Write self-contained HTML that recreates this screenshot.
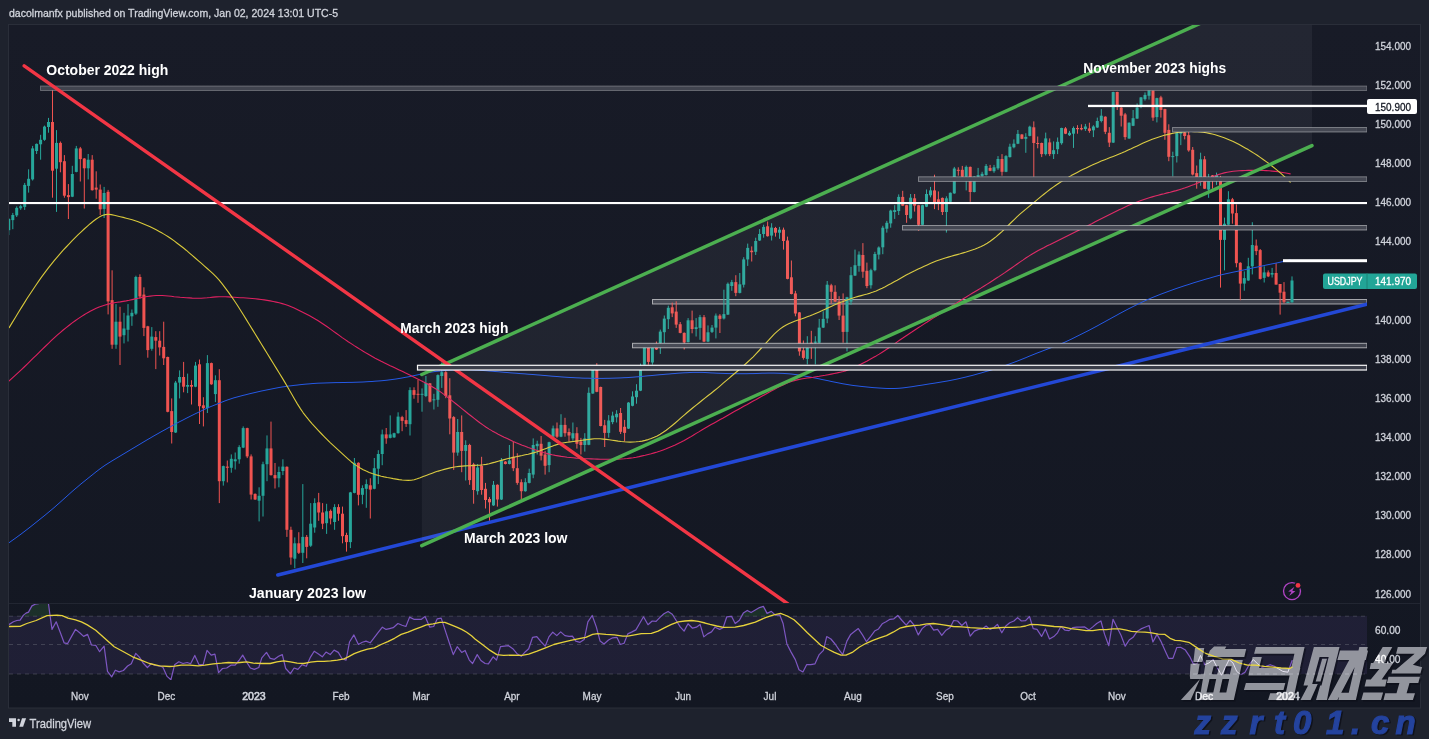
<!DOCTYPE html>
<html><head><meta charset="utf-8"><title>USDJPY</title>
<style>
html,body{margin:0;padding:0;background:#1e222d;overflow:hidden}
svg{display:block}
text{font-family:"Liberation Sans",sans-serif}
svg{will-change:transform}
</style></head><body>
<svg width="1429" height="739" viewBox="0 0 1429 739">
<rect x="0" y="0" width="1429" height="739" fill="#1e222d"/>
<text x="9" y="17" font-size="11" fill="#d1d4dc" textLength="329" lengthAdjust="spacingAndGlyphs" stroke="#d1d4dc" stroke-width="0.3">dacolmanfx published on TradingView.com, Jan 02, 2024 13:01 UTC-5</text>
<defs><linearGradient id="pg" x1="0" y1="0" x2="0" y2="1"><stop offset="0" stop-color="#181b27"/><stop offset="1" stop-color="#131722"/></linearGradient></defs>
<rect x="8.5" y="24.5" width="1412" height="683.5" fill="url(#pg)" stroke="#2a2e39" stroke-width="1"/>
<line x1="9" y1="603.5" x2="1420" y2="603.5" stroke="#222632" stroke-width="1"/>
<defs><clipPath id="cm"><rect x="9" y="25" width="1358" height="578"/></clipPath><clipPath id="cr"><rect x="9" y="604" width="1358" height="76"/></clipPath></defs>
<g clip-path="url(#cm)">
<rect x="652.5" y="299.5" width="714.5" height="4.5" fill="#3f424d" stroke="#ffffff" stroke-opacity="0.58" stroke-width="1"/>
<rect x="8.3" y="218.0" width="1" height="17.1" fill="#26a69a"/><rect x="7.3" y="219.0" width="3" height="11.2" fill="#26a69a"/>
<rect x="12.3" y="212.9" width="1" height="16.3" fill="#26a69a"/><rect x="11.3" y="215.0" width="3" height="5.1" fill="#26a69a"/>
<rect x="16.2" y="206.4" width="1" height="10.6" fill="#26a69a"/><rect x="15.2" y="207.9" width="3" height="7.5" fill="#26a69a"/>
<rect x="20.2" y="204.8" width="1" height="5.1" fill="#26a69a"/><rect x="19.2" y="206.2" width="3" height="2.1" fill="#26a69a"/>
<rect x="24.2" y="182.9" width="1" height="27.0" fill="#26a69a"/><rect x="23.2" y="184.9" width="3" height="22.0" fill="#26a69a"/>
<rect x="28.1" y="169.3" width="1" height="23.3" fill="#26a69a"/><rect x="27.1" y="178.8" width="3" height="7.1" fill="#26a69a"/>
<rect x="32.1" y="145.9" width="1" height="34.6" fill="#26a69a"/><rect x="31.1" y="148.4" width="3" height="31.0" fill="#26a69a"/>
<rect x="36.1" y="143.5" width="1" height="10.5" fill="#26a69a"/><rect x="35.1" y="143.9" width="3" height="7.1" fill="#26a69a"/>
<rect x="40.1" y="134.8" width="1" height="24.9" fill="#26a69a"/><rect x="39.1" y="139.8" width="3" height="4.5" fill="#26a69a"/>
<rect x="44.0" y="125.6" width="1" height="15.2" fill="#26a69a"/><rect x="43.0" y="126.6" width="3" height="13.2" fill="#26a69a"/>
<rect x="48.0" y="117.9" width="1" height="14.8" fill="#26a69a"/><rect x="47.0" y="122.0" width="3" height="5.0" fill="#26a69a"/>
<rect x="52.0" y="90.1" width="1" height="107.6" fill="#ef5350"/><rect x="51.0" y="122.0" width="3" height="48.7" fill="#ef5350"/>
<rect x="56.0" y="130.1" width="1" height="81.8" fill="#26a69a"/><rect x="55.0" y="142.9" width="3" height="25.8" fill="#26a69a"/>
<rect x="59.9" y="141.5" width="1" height="30.8" fill="#ef5350"/><rect x="58.9" y="142.9" width="3" height="19.3" fill="#ef5350"/>
<rect x="63.9" y="155.1" width="1" height="42.6" fill="#ef5350"/><rect x="62.9" y="161.2" width="3" height="34.5" fill="#ef5350"/>
<rect x="67.9" y="184.1" width="1" height="34.9" fill="#ef5350"/><rect x="66.9" y="195.1" width="3" height="2.0" fill="#ef5350"/>
<rect x="71.8" y="165.8" width="1" height="31.3" fill="#26a69a"/><rect x="70.8" y="174.0" width="3" height="22.7" fill="#26a69a"/>
<rect x="75.8" y="145.9" width="1" height="26.4" fill="#26a69a"/><rect x="74.8" y="148.4" width="3" height="23.5" fill="#26a69a"/>
<rect x="79.8" y="146.9" width="1" height="34.6" fill="#ef5350"/><rect x="78.8" y="148.4" width="3" height="10.7" fill="#ef5350"/>
<rect x="83.8" y="158.1" width="1" height="50.4" fill="#ef5350"/><rect x="82.8" y="158.5" width="3" height="9.8" fill="#ef5350"/>
<rect x="87.7" y="154.0" width="1" height="25.4" fill="#26a69a"/><rect x="86.7" y="159.7" width="3" height="8.6" fill="#26a69a"/>
<rect x="91.7" y="155.1" width="1" height="35.5" fill="#ef5350"/><rect x="90.7" y="159.7" width="3" height="30.5" fill="#ef5350"/>
<rect x="95.7" y="171.3" width="1" height="27.4" fill="#ef5350"/><rect x="94.7" y="187.6" width="3" height="2.0" fill="#ef5350"/>
<rect x="99.7" y="184.5" width="1" height="30.5" fill="#ef5350"/><rect x="98.7" y="189.6" width="3" height="19.7" fill="#ef5350"/>
<rect x="103.6" y="186.9" width="1" height="31.1" fill="#26a69a"/><rect x="102.6" y="193.0" width="3" height="15.9" fill="#26a69a"/>
<rect x="107.6" y="189.9" width="1" height="124.5" fill="#ef5350"/><rect x="106.6" y="191.8" width="3" height="109.6" fill="#ef5350"/>
<rect x="111.6" y="270.3" width="1" height="78.5" fill="#ef5350"/><rect x="110.6" y="300.1" width="3" height="44.6" fill="#ef5350"/>
<rect x="115.5" y="304.1" width="1" height="44.7" fill="#26a69a"/><rect x="114.5" y="321.7" width="3" height="23.0" fill="#26a69a"/>
<rect x="119.5" y="306.8" width="1" height="58.2" fill="#ef5350"/><rect x="118.5" y="321.7" width="3" height="14.9" fill="#ef5350"/>
<rect x="123.5" y="312.8" width="1" height="30.6" fill="#26a69a"/><rect x="122.5" y="328.5" width="3" height="6.7" fill="#26a69a"/>
<rect x="127.5" y="304.1" width="1" height="37.4" fill="#26a69a"/><rect x="126.5" y="315.5" width="3" height="14.3" fill="#26a69a"/>
<rect x="131.4" y="309.5" width="1" height="16.3" fill="#26a69a"/><rect x="130.4" y="312.8" width="3" height="3.5" fill="#26a69a"/>
<rect x="135.4" y="275.7" width="1" height="39.2" fill="#26a69a"/><rect x="134.4" y="277.0" width="3" height="36.6" fill="#26a69a"/>
<rect x="139.4" y="274.3" width="1" height="24.4" fill="#ef5350"/><rect x="138.4" y="277.0" width="3" height="19.5" fill="#ef5350"/>
<rect x="143.4" y="287.3" width="1" height="48.8" fill="#ef5350"/><rect x="142.4" y="294.6" width="3" height="33.3" fill="#ef5350"/>
<rect x="147.3" y="325.8" width="1" height="31.9" fill="#ef5350"/><rect x="146.3" y="326.3" width="3" height="23.8" fill="#ef5350"/>
<rect x="151.3" y="327.1" width="1" height="23.6" fill="#26a69a"/><rect x="150.3" y="336.6" width="3" height="12.2" fill="#26a69a"/>
<rect x="155.3" y="331.2" width="1" height="37.9" fill="#ef5350"/><rect x="154.3" y="337.1" width="3" height="3.6" fill="#ef5350"/>
<rect x="159.2" y="331.2" width="1" height="24.3" fill="#ef5350"/><rect x="158.2" y="340.7" width="3" height="6.7" fill="#ef5350"/>
<rect x="163.2" y="321.7" width="1" height="43.3" fill="#ef5350"/><rect x="162.2" y="346.9" width="3" height="11.4" fill="#ef5350"/>
<rect x="167.2" y="356.6" width="1" height="55.7" fill="#ef5350"/><rect x="166.2" y="357.0" width="3" height="54.8" fill="#ef5350"/>
<rect x="171.2" y="398.4" width="1" height="45.1" fill="#ef5350"/><rect x="170.2" y="411.1" width="3" height="20.9" fill="#ef5350"/>
<rect x="175.1" y="380.9" width="1" height="52.1" fill="#26a69a"/><rect x="174.1" y="382.6" width="3" height="49.9" fill="#26a69a"/>
<rect x="179.1" y="370.4" width="1" height="28.0" fill="#26a69a"/><rect x="178.1" y="377.0" width="3" height="5.6" fill="#26a69a"/>
<rect x="183.1" y="361.9" width="1" height="30.4" fill="#ef5350"/><rect x="182.1" y="377.0" width="3" height="9.7" fill="#ef5350"/>
<rect x="187.1" y="373.6" width="1" height="19.5" fill="#26a69a"/><rect x="186.1" y="385.0" width="3" height="1.7" fill="#26a69a"/>
<rect x="191.0" y="380.2" width="1" height="24.3" fill="#ef5350"/><rect x="190.0" y="385.0" width="3" height="1.7" fill="#ef5350"/>
<rect x="195.0" y="361.9" width="1" height="25.3" fill="#26a69a"/><rect x="194.0" y="365.6" width="3" height="21.1" fill="#26a69a"/>
<rect x="199.0" y="359.5" width="1" height="64.5" fill="#ef5350"/><rect x="198.0" y="364.3" width="3" height="41.9" fill="#ef5350"/>
<rect x="202.9" y="397.2" width="1" height="29.2" fill="#ef5350"/><rect x="201.9" y="405.3" width="3" height="2.9" fill="#ef5350"/>
<rect x="206.9" y="355.1" width="1" height="57.9" fill="#26a69a"/><rect x="205.9" y="363.1" width="3" height="45.1" fill="#26a69a"/>
<rect x="210.9" y="362.6" width="1" height="22.2" fill="#ef5350"/><rect x="209.9" y="363.1" width="3" height="21.2" fill="#ef5350"/>
<rect x="214.9" y="375.3" width="1" height="26.8" fill="#26a69a"/><rect x="213.9" y="380.2" width="3" height="13.9" fill="#26a69a"/>
<rect x="218.8" y="369.2" width="1" height="133.9" fill="#ef5350"/><rect x="217.8" y="380.2" width="3" height="101.0" fill="#ef5350"/>
<rect x="222.8" y="465.6" width="1" height="20.0" fill="#26a69a"/><rect x="221.8" y="466.1" width="3" height="15.1" fill="#26a69a"/>
<rect x="226.8" y="460.5" width="1" height="21.9" fill="#ef5350"/><rect x="225.8" y="466.6" width="3" height="1.2" fill="#ef5350"/>
<rect x="230.8" y="454.4" width="1" height="18.3" fill="#26a69a"/><rect x="229.8" y="458.8" width="3" height="9.0" fill="#26a69a"/>
<rect x="234.7" y="452.5" width="1" height="17.0" fill="#26a69a"/><rect x="233.7" y="459.3" width="3" height="2.0" fill="#26a69a"/>
<rect x="238.7" y="445.2" width="1" height="18.5" fill="#26a69a"/><rect x="237.7" y="447.1" width="3" height="12.2" fill="#26a69a"/>
<rect x="242.7" y="426.4" width="1" height="21.7" fill="#26a69a"/><rect x="241.7" y="428.1" width="3" height="19.5" fill="#26a69a"/>
<rect x="246.7" y="427.7" width="1" height="30.4" fill="#ef5350"/><rect x="245.7" y="428.1" width="3" height="28.3" fill="#ef5350"/>
<rect x="250.6" y="454.4" width="1" height="45.1" fill="#ef5350"/><rect x="249.6" y="456.4" width="3" height="38.2" fill="#ef5350"/>
<rect x="254.6" y="493.4" width="1" height="6.6" fill="#ef5350"/><rect x="253.6" y="493.9" width="3" height="5.6" fill="#ef5350"/>
<rect x="258.6" y="487.3" width="1" height="34.1" fill="#26a69a"/><rect x="257.6" y="495.8" width="3" height="4.9" fill="#26a69a"/>
<rect x="262.5" y="461.7" width="1" height="54.8" fill="#26a69a"/><rect x="261.5" y="464.2" width="3" height="31.6" fill="#26a69a"/>
<rect x="266.5" y="435.4" width="1" height="45.8" fill="#26a69a"/><rect x="265.5" y="448.4" width="3" height="15.8" fill="#26a69a"/>
<rect x="270.5" y="421.6" width="1" height="54.0" fill="#ef5350"/><rect x="269.5" y="448.4" width="3" height="26.7" fill="#ef5350"/>
<rect x="274.5" y="463.0" width="1" height="25.5" fill="#ef5350"/><rect x="273.5" y="475.1" width="3" height="3.2" fill="#ef5350"/>
<rect x="278.4" y="466.6" width="1" height="20.7" fill="#26a69a"/><rect x="277.4" y="472.0" width="3" height="6.3" fill="#26a69a"/>
<rect x="282.4" y="459.3" width="1" height="15.8" fill="#26a69a"/><rect x="281.4" y="466.6" width="3" height="4.4" fill="#26a69a"/>
<rect x="286.4" y="466.3" width="1" height="70.6" fill="#ef5350"/><rect x="285.4" y="466.8" width="3" height="63.0" fill="#ef5350"/>
<rect x="290.4" y="526.7" width="1" height="38.0" fill="#ef5350"/><rect x="289.4" y="529.8" width="3" height="27.7" fill="#ef5350"/>
<rect x="294.3" y="537.4" width="1" height="30.8" fill="#26a69a"/><rect x="293.3" y="543.3" width="3" height="15.4" fill="#26a69a"/>
<rect x="298.3" y="532.2" width="1" height="21.8" fill="#ef5350"/><rect x="297.3" y="543.3" width="3" height="9.5" fill="#ef5350"/>
<rect x="302.3" y="484.1" width="1" height="78.9" fill="#26a69a"/><rect x="301.3" y="536.9" width="3" height="15.9" fill="#26a69a"/>
<rect x="306.2" y="535.0" width="1" height="23.3" fill="#ef5350"/><rect x="305.2" y="536.9" width="3" height="10.0" fill="#ef5350"/>
<rect x="310.2" y="503.1" width="1" height="43.8" fill="#26a69a"/><rect x="309.2" y="523.7" width="3" height="22.0" fill="#26a69a"/>
<rect x="314.2" y="498.3" width="1" height="34.4" fill="#26a69a"/><rect x="313.2" y="503.1" width="3" height="24.4" fill="#26a69a"/>
<rect x="318.2" y="492.9" width="1" height="27.9" fill="#ef5350"/><rect x="317.2" y="502.3" width="3" height="10.2" fill="#ef5350"/>
<rect x="322.1" y="503.1" width="1" height="26.0" fill="#ef5350"/><rect x="321.1" y="512.5" width="3" height="11.2" fill="#ef5350"/>
<rect x="326.1" y="503.8" width="1" height="30.1" fill="#26a69a"/><rect x="325.1" y="511.3" width="3" height="11.9" fill="#26a69a"/>
<rect x="330.1" y="509.5" width="1" height="14.9" fill="#ef5350"/><rect x="329.1" y="510.9" width="3" height="7.6" fill="#ef5350"/>
<rect x="334.1" y="504.2" width="1" height="25.6" fill="#26a69a"/><rect x="333.1" y="507.1" width="3" height="14.9" fill="#26a69a"/>
<rect x="338.0" y="504.2" width="1" height="16.6" fill="#ef5350"/><rect x="337.0" y="507.1" width="3" height="6.6" fill="#ef5350"/>
<rect x="342.0" y="506.6" width="1" height="36.7" fill="#ef5350"/><rect x="341.0" y="513.7" width="3" height="22.5" fill="#ef5350"/>
<rect x="346.0" y="532.7" width="1" height="18.9" fill="#ef5350"/><rect x="345.0" y="535.0" width="3" height="7.1" fill="#ef5350"/>
<rect x="349.9" y="491.9" width="1" height="56.2" fill="#26a69a"/><rect x="348.9" y="492.4" width="3" height="49.7" fill="#26a69a"/>
<rect x="353.9" y="458.0" width="1" height="35.3" fill="#26a69a"/><rect x="352.9" y="462.8" width="3" height="30.1" fill="#26a69a"/>
<rect x="357.9" y="462.3" width="1" height="43.1" fill="#ef5350"/><rect x="356.9" y="462.8" width="3" height="32.0" fill="#ef5350"/>
<rect x="361.9" y="485.3" width="1" height="18.9" fill="#26a69a"/><rect x="360.9" y="488.1" width="3" height="6.7" fill="#26a69a"/>
<rect x="365.8" y="479.4" width="1" height="28.4" fill="#26a69a"/><rect x="364.8" y="484.1" width="3" height="4.7" fill="#26a69a"/>
<rect x="369.8" y="478.2" width="1" height="40.3" fill="#ef5350"/><rect x="368.8" y="485.3" width="3" height="4.3" fill="#ef5350"/>
<rect x="373.8" y="458.0" width="1" height="31.3" fill="#26a69a"/><rect x="372.8" y="468.2" width="3" height="20.6" fill="#26a69a"/>
<rect x="377.8" y="450.2" width="1" height="33.9" fill="#26a69a"/><rect x="376.8" y="454.0" width="3" height="14.7" fill="#26a69a"/>
<rect x="381.7" y="429.6" width="1" height="35.6" fill="#26a69a"/><rect x="380.7" y="434.4" width="3" height="19.6" fill="#26a69a"/>
<rect x="385.7" y="428.0" width="1" height="15.8" fill="#ef5350"/><rect x="384.7" y="434.4" width="3" height="4.0" fill="#ef5350"/>
<rect x="389.7" y="415.4" width="1" height="23.0" fill="#26a69a"/><rect x="388.7" y="434.4" width="3" height="3.5" fill="#26a69a"/>
<rect x="393.6" y="432.7" width="1" height="5.2" fill="#26a69a"/><rect x="392.6" y="433.2" width="3" height="4.2" fill="#26a69a"/>
<rect x="397.6" y="412.3" width="1" height="21.3" fill="#26a69a"/><rect x="396.6" y="416.6" width="3" height="16.6" fill="#26a69a"/>
<rect x="401.6" y="415.8" width="1" height="15.4" fill="#ef5350"/><rect x="400.6" y="417.1" width="3" height="3.8" fill="#ef5350"/>
<rect x="405.6" y="410.1" width="1" height="16.8" fill="#ef5350"/><rect x="404.6" y="420.1" width="3" height="3.8" fill="#ef5350"/>
<rect x="409.5" y="387.3" width="1" height="48.2" fill="#26a69a"/><rect x="408.5" y="390.1" width="3" height="34.1" fill="#26a69a"/>
<rect x="413.5" y="387.3" width="1" height="11.4" fill="#ef5350"/><rect x="412.5" y="390.1" width="3" height="4.8" fill="#ef5350"/>
<rect x="417.5" y="379.8" width="1" height="23.0" fill="#ef5350"/><rect x="416.5" y="393.8" width="3" height="1.0" fill="#ef5350"/>
<rect x="421.5" y="388.4" width="1" height="23.3" fill="#26a69a"/><rect x="420.5" y="393.8" width="3" height="1.0" fill="#26a69a"/>
<rect x="425.4" y="376.0" width="1" height="21.1" fill="#26a69a"/><rect x="424.4" y="383.0" width="3" height="13.0" fill="#26a69a"/>
<rect x="429.4" y="383.1" width="1" height="19.4" fill="#ef5350"/><rect x="428.4" y="383.3" width="3" height="18.4" fill="#ef5350"/>
<rect x="433.4" y="393.8" width="1" height="15.7" fill="#26a69a"/><rect x="432.4" y="399.3" width="3" height="1.0" fill="#26a69a"/>
<rect x="437.4" y="374.4" width="1" height="32.4" fill="#26a69a"/><rect x="436.4" y="375.1" width="3" height="24.7" fill="#26a69a"/>
<rect x="441.3" y="362.4" width="1" height="25.5" fill="#26a69a"/><rect x="440.3" y="372.2" width="3" height="3.8" fill="#26a69a"/>
<rect x="445.3" y="371.1" width="1" height="27.1" fill="#ef5350"/><rect x="444.3" y="372.2" width="3" height="23.8" fill="#ef5350"/>
<rect x="449.3" y="378.2" width="1" height="56.1" fill="#ef5350"/><rect x="448.3" y="395.3" width="3" height="23.2" fill="#ef5350"/>
<rect x="453.2" y="416.1" width="1" height="53.8" fill="#ef5350"/><rect x="452.2" y="417.1" width="3" height="35.5" fill="#ef5350"/>
<rect x="457.2" y="419.0" width="1" height="36.7" fill="#26a69a"/><rect x="456.2" y="432.0" width="3" height="20.6" fill="#26a69a"/>
<rect x="461.2" y="415.4" width="1" height="56.8" fill="#ef5350"/><rect x="460.2" y="432.0" width="3" height="18.9" fill="#ef5350"/>
<rect x="465.2" y="440.3" width="1" height="40.2" fill="#26a69a"/><rect x="464.2" y="445.0" width="3" height="5.9" fill="#26a69a"/>
<rect x="469.1" y="443.8" width="1" height="41.0" fill="#ef5350"/><rect x="468.1" y="445.0" width="3" height="35.1" fill="#ef5350"/>
<rect x="473.1" y="462.8" width="1" height="40.9" fill="#ef5350"/><rect x="472.1" y="464.4" width="3" height="25.6" fill="#ef5350"/>
<rect x="477.1" y="464.0" width="1" height="30.7" fill="#26a69a"/><rect x="476.1" y="467.5" width="3" height="23.7" fill="#26a69a"/>
<rect x="481.1" y="456.8" width="1" height="37.9" fill="#ef5350"/><rect x="480.1" y="465.8" width="3" height="24.2" fill="#ef5350"/>
<rect x="485.0" y="482.9" width="1" height="25.6" fill="#ef5350"/><rect x="484.0" y="488.8" width="3" height="11.2" fill="#ef5350"/>
<rect x="489.0" y="497.1" width="1" height="23.7" fill="#ef5350"/><rect x="488.0" y="499.0" width="3" height="3.3" fill="#ef5350"/>
<rect x="493.0" y="481.0" width="1" height="24.9" fill="#26a69a"/><rect x="492.0" y="484.8" width="3" height="20.6" fill="#26a69a"/>
<rect x="496.9" y="484.3" width="1" height="22.3" fill="#ef5350"/><rect x="495.9" y="484.8" width="3" height="14.7" fill="#ef5350"/>
<rect x="500.9" y="458.0" width="1" height="42.0" fill="#26a69a"/><rect x="499.9" y="460.4" width="3" height="39.1" fill="#26a69a"/>
<rect x="504.9" y="461.1" width="1" height="3.3" fill="#ef5350"/><rect x="503.9" y="461.6" width="3" height="2.4" fill="#ef5350"/>
<rect x="508.9" y="445.0" width="1" height="19.4" fill="#26a69a"/><rect x="507.9" y="460.4" width="3" height="3.6" fill="#26a69a"/>
<rect x="512.8" y="441.5" width="1" height="29.6" fill="#ef5350"/><rect x="511.8" y="456.8" width="3" height="11.4" fill="#ef5350"/>
<rect x="516.8" y="453.3" width="1" height="31.5" fill="#ef5350"/><rect x="515.8" y="468.2" width="3" height="14.7" fill="#ef5350"/>
<rect x="520.8" y="479.3" width="1" height="20.2" fill="#ef5350"/><rect x="519.8" y="482.2" width="3" height="9.0" fill="#ef5350"/>
<rect x="524.8" y="478.2" width="1" height="13.5" fill="#26a69a"/><rect x="523.8" y="482.2" width="3" height="9.0" fill="#26a69a"/>
<rect x="528.7" y="468.7" width="1" height="14.7" fill="#26a69a"/><rect x="527.7" y="473.0" width="3" height="9.9" fill="#26a69a"/>
<rect x="532.7" y="438.4" width="1" height="39.8" fill="#26a69a"/><rect x="531.7" y="445.0" width="3" height="29.6" fill="#26a69a"/>
<rect x="536.7" y="440.7" width="1" height="13.8" fill="#26a69a"/><rect x="535.7" y="443.8" width="3" height="2.4" fill="#26a69a"/>
<rect x="540.6" y="436.0" width="1" height="24.4" fill="#ef5350"/><rect x="539.6" y="443.8" width="3" height="11.9" fill="#ef5350"/>
<rect x="544.6" y="450.9" width="1" height="23.7" fill="#ef5350"/><rect x="543.6" y="454.5" width="3" height="11.3" fill="#ef5350"/>
<rect x="548.6" y="441.7" width="1" height="30.5" fill="#26a69a"/><rect x="547.6" y="442.2" width="3" height="22.9" fill="#26a69a"/>
<rect x="552.6" y="425.6" width="1" height="11.6" fill="#26a69a"/><rect x="551.6" y="428.4" width="3" height="8.3" fill="#26a69a"/>
<rect x="556.5" y="422.5" width="1" height="15.4" fill="#ef5350"/><rect x="555.5" y="428.4" width="3" height="8.3" fill="#ef5350"/>
<rect x="560.5" y="414.2" width="1" height="23.0" fill="#26a69a"/><rect x="559.5" y="424.9" width="3" height="11.8" fill="#26a69a"/>
<rect x="564.5" y="417.8" width="1" height="18.9" fill="#ef5350"/><rect x="563.5" y="424.9" width="3" height="8.3" fill="#ef5350"/>
<rect x="568.5" y="428.4" width="1" height="13.1" fill="#ef5350"/><rect x="567.5" y="432.0" width="3" height="3.5" fill="#ef5350"/>
<rect x="572.4" y="422.5" width="1" height="18.2" fill="#26a69a"/><rect x="571.4" y="433.2" width="3" height="5.2" fill="#26a69a"/>
<rect x="576.4" y="427.2" width="1" height="21.4" fill="#ef5350"/><rect x="575.4" y="433.2" width="3" height="10.6" fill="#ef5350"/>
<rect x="580.4" y="437.9" width="1" height="16.6" fill="#ef5350"/><rect x="579.4" y="441.5" width="3" height="3.5" fill="#ef5350"/>
<rect x="584.3" y="433.2" width="1" height="18.4" fill="#26a69a"/><rect x="583.3" y="438.4" width="3" height="6.6" fill="#26a69a"/>
<rect x="588.3" y="387.4" width="1" height="57.8" fill="#26a69a"/><rect x="587.3" y="392.8" width="3" height="52.0" fill="#26a69a"/>
<rect x="592.3" y="369.2" width="1" height="24.7" fill="#26a69a"/><rect x="591.3" y="369.7" width="3" height="23.8" fill="#26a69a"/>
<rect x="596.3" y="363.2" width="1" height="29.0" fill="#ef5350"/><rect x="595.3" y="369.7" width="3" height="22.1" fill="#ef5350"/>
<rect x="600.2" y="386.6" width="1" height="39.8" fill="#ef5350"/><rect x="599.2" y="387.0" width="3" height="39.0" fill="#ef5350"/>
<rect x="604.2" y="419.9" width="1" height="27.1" fill="#ef5350"/><rect x="603.2" y="425.3" width="3" height="7.6" fill="#ef5350"/>
<rect x="608.2" y="415.1" width="1" height="22.6" fill="#26a69a"/><rect x="607.2" y="420.5" width="3" height="12.4" fill="#26a69a"/>
<rect x="612.1" y="411.7" width="1" height="12.5" fill="#26a69a"/><rect x="611.1" y="415.6" width="3" height="6.5" fill="#26a69a"/>
<rect x="616.1" y="410.2" width="1" height="12.3" fill="#26a69a"/><rect x="615.1" y="413.8" width="3" height="3.5" fill="#26a69a"/>
<rect x="620.1" y="408.0" width="1" height="26.0" fill="#ef5350"/><rect x="619.1" y="413.0" width="3" height="18.8" fill="#ef5350"/>
<rect x="624.1" y="419.9" width="1" height="21.6" fill="#ef5350"/><rect x="623.1" y="426.8" width="3" height="6.1" fill="#ef5350"/>
<rect x="628.0" y="402.1" width="1" height="26.9" fill="#26a69a"/><rect x="627.0" y="402.6" width="3" height="26.0" fill="#26a69a"/>
<rect x="632.0" y="391.3" width="1" height="15.0" fill="#26a69a"/><rect x="631.0" y="396.5" width="3" height="9.3" fill="#26a69a"/>
<rect x="636.0" y="384.2" width="1" height="19.5" fill="#26a69a"/><rect x="635.0" y="390.7" width="3" height="6.5" fill="#26a69a"/>
<rect x="640.0" y="363.6" width="1" height="27.5" fill="#26a69a"/><rect x="639.0" y="370.1" width="3" height="20.6" fill="#26a69a"/>
<rect x="643.9" y="346.9" width="1" height="18.2" fill="#26a69a"/><rect x="642.9" y="347.4" width="3" height="17.3" fill="#26a69a"/>
<rect x="647.9" y="346.9" width="1" height="17.8" fill="#ef5350"/><rect x="646.9" y="347.4" width="3" height="14.5" fill="#ef5350"/>
<rect x="651.9" y="346.9" width="1" height="17.8" fill="#26a69a"/><rect x="650.9" y="347.4" width="3" height="15.1" fill="#26a69a"/>
<rect x="655.9" y="341.5" width="1" height="8.5" fill="#ef5350"/><rect x="654.9" y="347.4" width="3" height="2.1" fill="#ef5350"/>
<rect x="659.8" y="329.6" width="1" height="24.3" fill="#26a69a"/><rect x="658.8" y="331.6" width="3" height="11.4" fill="#26a69a"/>
<rect x="663.8" y="315.5" width="1" height="27.5" fill="#26a69a"/><rect x="662.8" y="318.6" width="3" height="13.6" fill="#26a69a"/>
<rect x="667.8" y="305.6" width="1" height="23.4" fill="#26a69a"/><rect x="666.8" y="307.8" width="3" height="11.4" fill="#26a69a"/>
<rect x="671.7" y="302.6" width="1" height="14.5" fill="#ef5350"/><rect x="670.7" y="307.3" width="3" height="6.1" fill="#ef5350"/>
<rect x="675.7" y="301.3" width="1" height="26.6" fill="#ef5350"/><rect x="674.7" y="311.6" width="3" height="13.0" fill="#ef5350"/>
<rect x="679.7" y="322.0" width="1" height="11.3" fill="#ef5350"/><rect x="678.7" y="324.2" width="3" height="8.7" fill="#ef5350"/>
<rect x="683.7" y="332.4" width="1" height="17.1" fill="#ef5350"/><rect x="682.7" y="332.9" width="3" height="9.5" fill="#ef5350"/>
<rect x="687.6" y="318.1" width="1" height="24.3" fill="#26a69a"/><rect x="686.6" y="320.3" width="3" height="21.7" fill="#26a69a"/>
<rect x="691.6" y="310.6" width="1" height="22.7" fill="#ef5350"/><rect x="690.6" y="320.3" width="3" height="8.7" fill="#ef5350"/>
<rect x="695.6" y="318.1" width="1" height="18.4" fill="#26a69a"/><rect x="694.6" y="327.2" width="3" height="1.8" fill="#26a69a"/>
<rect x="699.5" y="314.9" width="1" height="24.9" fill="#26a69a"/><rect x="698.5" y="317.1" width="3" height="10.8" fill="#26a69a"/>
<rect x="703.5" y="315.0" width="1" height="27.1" fill="#ef5350"/><rect x="702.5" y="317.2" width="3" height="24.4" fill="#ef5350"/>
<rect x="707.5" y="325.4" width="1" height="16.7" fill="#26a69a"/><rect x="706.5" y="332.3" width="3" height="9.3" fill="#26a69a"/>
<rect x="711.5" y="325.0" width="1" height="8.0" fill="#26a69a"/><rect x="710.5" y="327.6" width="3" height="4.3" fill="#26a69a"/>
<rect x="715.4" y="313.5" width="1" height="24.9" fill="#26a69a"/><rect x="714.4" y="315.6" width="3" height="12.0" fill="#26a69a"/>
<rect x="719.4" y="314.1" width="1" height="18.9" fill="#ef5350"/><rect x="718.4" y="315.6" width="3" height="3.3" fill="#ef5350"/>
<rect x="723.4" y="289.7" width="1" height="29.8" fill="#26a69a"/><rect x="722.4" y="314.1" width="3" height="4.4" fill="#26a69a"/>
<rect x="727.4" y="282.5" width="1" height="32.5" fill="#26a69a"/><rect x="726.4" y="283.8" width="3" height="30.8" fill="#26a69a"/>
<rect x="731.3" y="279.9" width="1" height="10.9" fill="#26a69a"/><rect x="730.3" y="282.1" width="3" height="3.9" fill="#26a69a"/>
<rect x="735.3" y="275.2" width="1" height="21.0" fill="#ef5350"/><rect x="734.3" y="282.1" width="3" height="10.8" fill="#ef5350"/>
<rect x="739.3" y="273.0" width="1" height="20.4" fill="#26a69a"/><rect x="738.3" y="284.3" width="3" height="8.6" fill="#26a69a"/>
<rect x="743.2" y="257.2" width="1" height="30.3" fill="#26a69a"/><rect x="742.2" y="259.4" width="3" height="25.3" fill="#26a69a"/>
<rect x="747.2" y="243.6" width="1" height="22.3" fill="#26a69a"/><rect x="746.2" y="247.9" width="3" height="11.5" fill="#26a69a"/>
<rect x="751.2" y="246.4" width="1" height="15.1" fill="#ef5350"/><rect x="750.2" y="250.7" width="3" height="1.5" fill="#ef5350"/>
<rect x="755.2" y="237.7" width="1" height="17.3" fill="#26a69a"/><rect x="754.2" y="241.0" width="3" height="10.8" fill="#26a69a"/>
<rect x="759.1" y="229.1" width="1" height="11.9" fill="#26a69a"/><rect x="758.1" y="234.0" width="3" height="6.5" fill="#26a69a"/>
<rect x="763.1" y="224.7" width="1" height="13.0" fill="#26a69a"/><rect x="762.1" y="226.9" width="3" height="7.1" fill="#26a69a"/>
<rect x="767.1" y="221.5" width="1" height="15.1" fill="#ef5350"/><rect x="766.1" y="226.3" width="3" height="9.9" fill="#ef5350"/>
<rect x="771.1" y="223.2" width="1" height="17.3" fill="#26a69a"/><rect x="770.1" y="227.6" width="3" height="8.0" fill="#26a69a"/>
<rect x="775.0" y="226.9" width="1" height="9.7" fill="#ef5350"/><rect x="774.0" y="228.0" width="3" height="4.7" fill="#ef5350"/>
<rect x="779.0" y="226.9" width="1" height="11.9" fill="#26a69a"/><rect x="778.0" y="229.7" width="3" height="3.0" fill="#26a69a"/>
<rect x="783.0" y="227.6" width="1" height="22.0" fill="#ef5350"/><rect x="782.0" y="229.7" width="3" height="11.3" fill="#ef5350"/>
<rect x="787.0" y="236.6" width="1" height="42.7" fill="#ef5350"/><rect x="786.0" y="240.5" width="3" height="38.4" fill="#ef5350"/>
<rect x="790.9" y="260.5" width="1" height="33.9" fill="#ef5350"/><rect x="789.9" y="277.3" width="3" height="16.7" fill="#ef5350"/>
<rect x="794.9" y="290.8" width="1" height="25.5" fill="#ef5350"/><rect x="793.9" y="293.4" width="3" height="20.1" fill="#ef5350"/>
<rect x="798.9" y="312.0" width="1" height="43.7" fill="#ef5350"/><rect x="797.9" y="312.4" width="3" height="39.0" fill="#ef5350"/>
<rect x="802.9" y="340.5" width="1" height="19.1" fill="#ef5350"/><rect x="801.9" y="350.3" width="3" height="7.6" fill="#ef5350"/>
<rect x="806.8" y="336.2" width="1" height="28.2" fill="#26a69a"/><rect x="805.8" y="347.5" width="3" height="11.4" fill="#26a69a"/>
<rect x="810.8" y="330.8" width="1" height="28.1" fill="#ef5350"/><rect x="809.8" y="342.7" width="3" height="2.2" fill="#ef5350"/>
<rect x="814.8" y="336.2" width="1" height="28.2" fill="#26a69a"/><rect x="813.8" y="341.6" width="3" height="1.1" fill="#26a69a"/>
<rect x="818.7" y="318.9" width="1" height="24.2" fill="#26a69a"/><rect x="817.7" y="327.6" width="3" height="15.1" fill="#26a69a"/>
<rect x="822.7" y="311.3" width="1" height="16.7" fill="#26a69a"/><rect x="821.7" y="318.9" width="3" height="8.7" fill="#26a69a"/>
<rect x="826.7" y="281.0" width="1" height="42.2" fill="#26a69a"/><rect x="825.7" y="284.7" width="3" height="33.8" fill="#26a69a"/>
<rect x="830.7" y="283.8" width="1" height="19.9" fill="#ef5350"/><rect x="829.7" y="285.3" width="3" height="6.5" fill="#ef5350"/>
<rect x="834.6" y="285.3" width="1" height="16.7" fill="#ef5350"/><rect x="833.6" y="291.8" width="3" height="9.8" fill="#ef5350"/>
<rect x="838.6" y="296.2" width="1" height="23.8" fill="#ef5350"/><rect x="837.6" y="301.6" width="3" height="14.0" fill="#ef5350"/>
<rect x="842.6" y="293.4" width="1" height="49.3" fill="#ef5350"/><rect x="841.6" y="315.6" width="3" height="16.3" fill="#ef5350"/>
<rect x="846.5" y="296.8" width="1" height="54.6" fill="#26a69a"/><rect x="845.5" y="297.3" width="3" height="34.6" fill="#26a69a"/>
<rect x="850.5" y="266.9" width="1" height="37.9" fill="#26a69a"/><rect x="849.5" y="275.2" width="3" height="26.4" fill="#26a69a"/>
<rect x="854.5" y="249.6" width="1" height="26.4" fill="#26a69a"/><rect x="853.5" y="265.2" width="3" height="10.4" fill="#26a69a"/>
<rect x="858.5" y="251.4" width="1" height="20.3" fill="#26a69a"/><rect x="857.5" y="254.6" width="3" height="11.3" fill="#26a69a"/>
<rect x="862.4" y="243.1" width="1" height="34.7" fill="#ef5350"/><rect x="861.4" y="255.0" width="3" height="16.7" fill="#ef5350"/>
<rect x="866.4" y="262.6" width="1" height="25.6" fill="#ef5350"/><rect x="865.4" y="270.8" width="3" height="15.2" fill="#ef5350"/>
<rect x="870.4" y="268.7" width="1" height="19.9" fill="#26a69a"/><rect x="869.4" y="270.2" width="3" height="15.1" fill="#26a69a"/>
<rect x="874.4" y="251.8" width="1" height="19.5" fill="#26a69a"/><rect x="873.4" y="254.0" width="3" height="16.2" fill="#26a69a"/>
<rect x="878.3" y="246.4" width="1" height="13.0" fill="#26a69a"/><rect x="877.3" y="247.5" width="3" height="7.1" fill="#26a69a"/>
<rect x="882.3" y="225.8" width="1" height="28.4" fill="#26a69a"/><rect x="881.3" y="227.7" width="3" height="19.6" fill="#26a69a"/>
<rect x="886.3" y="220.8" width="1" height="11.8" fill="#26a69a"/><rect x="885.3" y="222.8" width="3" height="5.9" fill="#26a69a"/>
<rect x="890.2" y="209.7" width="1" height="18.0" fill="#26a69a"/><rect x="889.2" y="210.6" width="3" height="12.8" fill="#26a69a"/>
<rect x="894.2" y="205.2" width="1" height="13.7" fill="#26a69a"/><rect x="893.2" y="210.1" width="3" height="1.9" fill="#26a69a"/>
<rect x="898.2" y="194.4" width="1" height="20.6" fill="#26a69a"/><rect x="897.2" y="196.9" width="3" height="14.1" fill="#26a69a"/>
<rect x="902.2" y="190.8" width="1" height="15.3" fill="#ef5350"/><rect x="901.2" y="196.9" width="3" height="8.8" fill="#ef5350"/>
<rect x="906.1" y="204.8" width="1" height="18.0" fill="#ef5350"/><rect x="905.1" y="205.2" width="3" height="9.8" fill="#ef5350"/>
<rect x="910.1" y="194.0" width="1" height="25.3" fill="#26a69a"/><rect x="909.1" y="197.7" width="3" height="20.6" fill="#26a69a"/>
<rect x="914.1" y="194.0" width="1" height="17.6" fill="#ef5350"/><rect x="913.1" y="198.3" width="3" height="7.4" fill="#ef5350"/>
<rect x="918.1" y="204.8" width="1" height="25.9" fill="#ef5350"/><rect x="917.1" y="205.2" width="3" height="19.6" fill="#ef5350"/>
<rect x="922.0" y="204.8" width="1" height="20.4" fill="#26a69a"/><rect x="921.0" y="205.2" width="3" height="19.6" fill="#26a69a"/>
<rect x="926.0" y="189.5" width="1" height="17.6" fill="#26a69a"/><rect x="925.0" y="194.0" width="3" height="12.7" fill="#26a69a"/>
<rect x="930.0" y="186.9" width="1" height="10.4" fill="#26a69a"/><rect x="929.0" y="190.4" width="3" height="4.9" fill="#26a69a"/>
<rect x="934.0" y="174.7" width="1" height="34.4" fill="#ef5350"/><rect x="933.0" y="190.4" width="3" height="11.8" fill="#ef5350"/>
<rect x="937.9" y="191.4" width="1" height="18.7" fill="#ef5350"/><rect x="936.9" y="199.3" width="3" height="2.9" fill="#ef5350"/>
<rect x="941.9" y="197.5" width="1" height="17.5" fill="#ef5350"/><rect x="940.9" y="197.9" width="3" height="14.1" fill="#ef5350"/>
<rect x="945.9" y="196.3" width="1" height="36.3" fill="#26a69a"/><rect x="944.9" y="198.3" width="3" height="13.7" fill="#26a69a"/>
<rect x="949.8" y="192.4" width="1" height="9.8" fill="#26a69a"/><rect x="948.8" y="192.8" width="3" height="9.0" fill="#26a69a"/>
<rect x="953.8" y="166.9" width="1" height="26.9" fill="#26a69a"/><rect x="952.8" y="168.5" width="3" height="24.9" fill="#26a69a"/>
<rect x="957.8" y="167.3" width="1" height="8.4" fill="#ef5350"/><rect x="956.8" y="169.8" width="3" height="1.0" fill="#ef5350"/>
<rect x="961.8" y="165.9" width="1" height="11.2" fill="#ef5350"/><rect x="960.8" y="169.8" width="3" height="6.9" fill="#ef5350"/>
<rect x="965.7" y="165.5" width="1" height="24.9" fill="#26a69a"/><rect x="964.7" y="166.9" width="3" height="9.8" fill="#26a69a"/>
<rect x="969.7" y="166.5" width="1" height="35.3" fill="#ef5350"/><rect x="968.7" y="166.9" width="3" height="25.1" fill="#ef5350"/>
<rect x="973.7" y="176.3" width="1" height="16.1" fill="#26a69a"/><rect x="972.7" y="176.7" width="3" height="15.3" fill="#26a69a"/>
<rect x="977.6" y="167.9" width="1" height="9.2" fill="#26a69a"/><rect x="976.6" y="175.1" width="3" height="1.6" fill="#26a69a"/>
<rect x="981.6" y="171.8" width="1" height="4.7" fill="#26a69a"/><rect x="980.6" y="173.8" width="3" height="2.3" fill="#26a69a"/>
<rect x="985.6" y="164.0" width="1" height="11.5" fill="#26a69a"/><rect x="984.6" y="165.9" width="3" height="9.2" fill="#26a69a"/>
<rect x="989.6" y="164.9" width="1" height="6.3" fill="#ef5350"/><rect x="988.6" y="167.9" width="3" height="2.9" fill="#ef5350"/>
<rect x="993.5" y="164.9" width="1" height="7.9" fill="#26a69a"/><rect x="992.5" y="167.3" width="3" height="3.9" fill="#26a69a"/>
<rect x="997.5" y="156.1" width="1" height="13.7" fill="#26a69a"/><rect x="996.5" y="159.0" width="3" height="9.3" fill="#26a69a"/>
<rect x="1001.5" y="154.1" width="1" height="21.6" fill="#ef5350"/><rect x="1000.5" y="159.0" width="3" height="12.8" fill="#ef5350"/>
<rect x="1005.5" y="155.1" width="1" height="17.1" fill="#26a69a"/><rect x="1004.5" y="156.1" width="3" height="15.7" fill="#26a69a"/>
<rect x="1009.4" y="143.7" width="1" height="13.8" fill="#26a69a"/><rect x="1008.4" y="146.7" width="3" height="10.4" fill="#26a69a"/>
<rect x="1013.4" y="139.4" width="1" height="8.9" fill="#26a69a"/><rect x="1012.4" y="143.7" width="3" height="3.6" fill="#26a69a"/>
<rect x="1017.4" y="130.0" width="1" height="14.1" fill="#26a69a"/><rect x="1016.4" y="133.9" width="3" height="9.8" fill="#26a69a"/>
<rect x="1021.4" y="134.1" width="1" height="5.1" fill="#ef5350"/><rect x="1020.4" y="134.5" width="3" height="4.3" fill="#ef5350"/>
<rect x="1025.3" y="133.2" width="1" height="19.6" fill="#26a69a"/><rect x="1024.3" y="136.9" width="3" height="1.9" fill="#26a69a"/>
<rect x="1029.3" y="125.7" width="1" height="10.6" fill="#26a69a"/><rect x="1028.3" y="126.7" width="3" height="9.2" fill="#26a69a"/>
<rect x="1033.3" y="121.4" width="1" height="55.3" fill="#ef5350"/><rect x="1032.3" y="127.3" width="3" height="15.7" fill="#ef5350"/>
<rect x="1037.2" y="136.5" width="1" height="11.8" fill="#ef5350"/><rect x="1036.2" y="143.0" width="3" height="1.0" fill="#ef5350"/>
<rect x="1041.2" y="142.6" width="1" height="14.5" fill="#ef5350"/><rect x="1040.2" y="143.0" width="3" height="11.1" fill="#ef5350"/>
<rect x="1045.2" y="132.6" width="1" height="22.9" fill="#26a69a"/><rect x="1044.2" y="138.4" width="3" height="15.7" fill="#26a69a"/>
<rect x="1049.2" y="138.4" width="1" height="17.7" fill="#ef5350"/><rect x="1048.2" y="142.4" width="3" height="11.7" fill="#ef5350"/>
<rect x="1053.1" y="141.4" width="1" height="17.6" fill="#26a69a"/><rect x="1052.1" y="150.2" width="3" height="3.9" fill="#26a69a"/>
<rect x="1057.1" y="137.5" width="1" height="16.6" fill="#26a69a"/><rect x="1056.1" y="141.8" width="3" height="7.4" fill="#26a69a"/>
<rect x="1061.1" y="127.7" width="1" height="17.0" fill="#26a69a"/><rect x="1060.1" y="128.0" width="3" height="15.2" fill="#26a69a"/>
<rect x="1065.0" y="127.1" width="1" height="7.0" fill="#ef5350"/><rect x="1064.0" y="128.4" width="3" height="5.3" fill="#ef5350"/>
<rect x="1069.0" y="130.9" width="1" height="5.1" fill="#26a69a"/><rect x="1068.0" y="132.8" width="3" height="2.4" fill="#26a69a"/>
<rect x="1073.0" y="126.5" width="1" height="21.4" fill="#26a69a"/><rect x="1072.0" y="128.0" width="3" height="5.7" fill="#26a69a"/>
<rect x="1077.0" y="125.2" width="1" height="8.5" fill="#ef5350"/><rect x="1076.0" y="128.0" width="3" height="1.2" fill="#ef5350"/>
<rect x="1080.9" y="124.3" width="1" height="6.0" fill="#ef5350"/><rect x="1079.9" y="128.0" width="3" height="1.4" fill="#ef5350"/>
<rect x="1084.9" y="123.9" width="1" height="7.0" fill="#26a69a"/><rect x="1083.9" y="126.5" width="3" height="2.5" fill="#26a69a"/>
<rect x="1088.9" y="122.7" width="1" height="10.1" fill="#ef5350"/><rect x="1087.9" y="128.4" width="3" height="2.5" fill="#ef5350"/>
<rect x="1092.9" y="125.2" width="1" height="11.9" fill="#26a69a"/><rect x="1091.9" y="126.5" width="3" height="3.8" fill="#26a69a"/>
<rect x="1096.8" y="117.6" width="1" height="10.3" fill="#26a69a"/><rect x="1095.8" y="121.0" width="3" height="6.5" fill="#26a69a"/>
<rect x="1100.8" y="109.1" width="1" height="13.3" fill="#26a69a"/><rect x="1099.8" y="115.7" width="3" height="5.3" fill="#26a69a"/>
<rect x="1104.8" y="116.3" width="1" height="17.8" fill="#ef5350"/><rect x="1103.8" y="116.7" width="3" height="15.1" fill="#ef5350"/>
<rect x="1108.8" y="127.1" width="1" height="19.9" fill="#ef5350"/><rect x="1107.8" y="132.8" width="3" height="9.8" fill="#ef5350"/>
<rect x="1112.7" y="91.7" width="1" height="51.3" fill="#26a69a"/><rect x="1111.7" y="92.0" width="3" height="50.6" fill="#26a69a"/>
<rect x="1116.7" y="91.7" width="1" height="18.3" fill="#ef5350"/><rect x="1115.7" y="92.0" width="3" height="13.3" fill="#ef5350"/>
<rect x="1120.7" y="107.2" width="1" height="19.3" fill="#ef5350"/><rect x="1119.7" y="107.6" width="3" height="8.1" fill="#ef5350"/>
<rect x="1124.6" y="112.9" width="1" height="26.9" fill="#ef5350"/><rect x="1123.6" y="114.4" width="3" height="22.7" fill="#ef5350"/>
<rect x="1128.6" y="122.4" width="1" height="16.4" fill="#26a69a"/><rect x="1127.6" y="122.7" width="3" height="15.8" fill="#26a69a"/>
<rect x="1132.6" y="110.0" width="1" height="16.1" fill="#26a69a"/><rect x="1131.6" y="118.2" width="3" height="7.6" fill="#26a69a"/>
<rect x="1136.6" y="103.4" width="1" height="15.5" fill="#26a69a"/><rect x="1135.6" y="107.6" width="3" height="11.0" fill="#26a69a"/>
<rect x="1140.5" y="97.0" width="1" height="11.2" fill="#26a69a"/><rect x="1139.5" y="97.4" width="3" height="7.5" fill="#26a69a"/>
<rect x="1144.5" y="92.4" width="1" height="8.2" fill="#26a69a"/><rect x="1143.5" y="94.9" width="3" height="4.3" fill="#26a69a"/>
<rect x="1148.5" y="89.8" width="1" height="9.8" fill="#26a69a"/><rect x="1147.5" y="90.2" width="3" height="5.6" fill="#26a69a"/>
<rect x="1152.5" y="90.2" width="1" height="30.6" fill="#ef5350"/><rect x="1151.5" y="90.5" width="3" height="27.1" fill="#ef5350"/>
<rect x="1156.4" y="97.7" width="1" height="24.7" fill="#26a69a"/><rect x="1155.4" y="98.1" width="3" height="19.0" fill="#26a69a"/>
<rect x="1160.4" y="95.8" width="1" height="21.8" fill="#ef5350"/><rect x="1159.4" y="97.4" width="3" height="12.6" fill="#ef5350"/>
<rect x="1164.4" y="108.7" width="1" height="31.1" fill="#ef5350"/><rect x="1163.4" y="109.1" width="3" height="23.7" fill="#ef5350"/>
<rect x="1168.3" y="124.3" width="1" height="36.9" fill="#ef5350"/><rect x="1167.3" y="129.9" width="3" height="26.9" fill="#ef5350"/>
<rect x="1172.3" y="151.7" width="1" height="24.6" fill="#26a69a"/><rect x="1171.3" y="156.1" width="3" height="1.0" fill="#26a69a"/>
<rect x="1176.3" y="132.4" width="1" height="30.1" fill="#26a69a"/><rect x="1175.3" y="132.8" width="3" height="23.3" fill="#26a69a"/>
<rect x="1180.3" y="131.3" width="1" height="13.8" fill="#26a69a"/><rect x="1179.3" y="131.8" width="3" height="1.9" fill="#26a69a"/>
<rect x="1184.2" y="131.5" width="1" height="7.9" fill="#ef5350"/><rect x="1183.2" y="132.4" width="3" height="3.6" fill="#ef5350"/>
<rect x="1188.2" y="131.8" width="1" height="19.9" fill="#ef5350"/><rect x="1187.2" y="135.2" width="3" height="15.2" fill="#ef5350"/>
<rect x="1192.2" y="147.0" width="1" height="28.4" fill="#ef5350"/><rect x="1191.2" y="149.8" width="3" height="24.7" fill="#ef5350"/>
<rect x="1196.2" y="165.5" width="1" height="23.2" fill="#ef5350"/><rect x="1195.2" y="173.1" width="3" height="4.2" fill="#ef5350"/>
<rect x="1200.1" y="152.7" width="1" height="33.1" fill="#26a69a"/><rect x="1199.1" y="159.3" width="3" height="18.0" fill="#26a69a"/>
<rect x="1204.1" y="156.1" width="1" height="32.9" fill="#ef5350"/><rect x="1203.1" y="159.3" width="3" height="29.4" fill="#ef5350"/>
<rect x="1208.1" y="173.9" width="1" height="23.9" fill="#26a69a"/><rect x="1207.1" y="181.1" width="3" height="8.5" fill="#26a69a"/>
<rect x="1212.0" y="175.0" width="1" height="13.7" fill="#ef5350"/><rect x="1211.0" y="175.4" width="3" height="2.8" fill="#ef5350"/>
<rect x="1216.0" y="172.6" width="1" height="12.3" fill="#26a69a"/><rect x="1215.0" y="175.0" width="3" height="2.3" fill="#26a69a"/>
<rect x="1220.0" y="175.9" width="1" height="111.7" fill="#ef5350"/><rect x="1219.0" y="181.0" width="3" height="58.9" fill="#ef5350"/>
<rect x="1224.0" y="217.6" width="1" height="52.8" fill="#26a69a"/><rect x="1223.0" y="223.7" width="3" height="16.2" fill="#26a69a"/>
<rect x="1227.9" y="191.2" width="1" height="33.9" fill="#26a69a"/><rect x="1226.9" y="199.3" width="3" height="25.4" fill="#26a69a"/>
<rect x="1231.9" y="197.9" width="1" height="25.8" fill="#ef5350"/><rect x="1230.9" y="199.3" width="3" height="14.2" fill="#ef5350"/>
<rect x="1235.9" y="204.4" width="1" height="62.9" fill="#ef5350"/><rect x="1234.9" y="213.1" width="3" height="50.1" fill="#ef5350"/>
<rect x="1239.8" y="262.2" width="1" height="38.0" fill="#ef5350"/><rect x="1238.8" y="262.8" width="3" height="20.8" fill="#ef5350"/>
<rect x="1243.8" y="271.4" width="1" height="19.3" fill="#26a69a"/><rect x="1242.8" y="278.1" width="3" height="5.5" fill="#26a69a"/>
<rect x="1247.8" y="257.8" width="1" height="23.1" fill="#26a69a"/><rect x="1246.8" y="266.3" width="3" height="14.2" fill="#26a69a"/>
<rect x="1251.8" y="222.2" width="1" height="52.2" fill="#26a69a"/><rect x="1250.8" y="245.0" width="3" height="21.3" fill="#26a69a"/>
<rect x="1255.7" y="239.5" width="1" height="15.6" fill="#ef5350"/><rect x="1254.7" y="245.6" width="3" height="5.5" fill="#ef5350"/>
<rect x="1259.7" y="249.0" width="1" height="30.5" fill="#ef5350"/><rect x="1258.7" y="250.1" width="3" height="28.8" fill="#ef5350"/>
<rect x="1263.7" y="266.3" width="1" height="16.2" fill="#26a69a"/><rect x="1262.7" y="272.4" width="3" height="5.5" fill="#26a69a"/>
<rect x="1267.7" y="270.4" width="1" height="6.7" fill="#ef5350"/><rect x="1266.7" y="272.4" width="3" height="4.0" fill="#ef5350"/>
<rect x="1271.6" y="267.9" width="1" height="9.6" fill="#26a69a"/><rect x="1270.6" y="273.0" width="3" height="1.6" fill="#26a69a"/>
<rect x="1275.6" y="263.2" width="1" height="21.4" fill="#ef5350"/><rect x="1274.6" y="273.0" width="3" height="11.6" fill="#ef5350"/>
<rect x="1279.6" y="284.0" width="1" height="30.6" fill="#ef5350"/><rect x="1278.6" y="284.0" width="3" height="8.7" fill="#ef5350"/>
<rect x="1283.5" y="282.1" width="1" height="21.4" fill="#ef5350"/><rect x="1282.5" y="291.7" width="3" height="10.1" fill="#ef5350"/>
<rect x="1287.5" y="301.4" width="1" height="1.6" fill="#26a69a"/><rect x="1286.5" y="302.0" width="3" height="1.0" fill="#26a69a"/>
<rect x="1291.5" y="276.4" width="1" height="26.0" fill="#26a69a"/><rect x="1290.5" y="280.5" width="3" height="21.9" fill="#26a69a"/>
<polyline points="9.0,542.8 12.0,540.6 15.0,538.5 18.0,536.3 21.0,534.1 24.0,531.8 27.0,529.5 30.0,527.2 33.0,524.8 36.0,522.4 39.0,520.0 42.0,517.6 45.0,515.2 48.0,512.7 51.0,510.2 54.0,507.7 57.0,505.0 60.0,502.4 63.0,499.7 66.0,497.0 69.0,494.3 72.0,491.6 75.0,489.0 78.0,486.5 81.0,483.9 84.0,481.5 87.0,479.1 90.0,476.7 93.0,474.3 96.0,471.9 99.0,469.6 102.0,467.4 105.0,465.3 108.0,463.4 111.0,461.5 114.0,459.7 117.0,457.9 120.0,456.1 123.0,454.3 126.0,452.5 129.0,450.7 132.0,448.9 135.0,447.1 138.0,445.3 141.0,443.5 144.0,441.7 147.0,439.9 150.0,438.2 153.0,436.4 156.0,434.7 159.0,433.0 162.0,431.3 165.0,429.7 168.0,428.0 171.0,426.4 174.0,424.7 177.0,423.1 180.0,421.5 183.0,420.0 186.0,418.4 189.0,416.9 192.0,415.4 195.0,413.9 198.0,412.5 201.0,411.0 204.0,409.6 207.0,408.2 210.0,406.9 213.0,405.7 216.0,404.5 219.0,403.3 222.0,402.1 225.0,400.9 228.0,399.8 231.0,398.8 234.0,397.8 237.0,397.0 240.0,396.2 243.0,395.4 246.0,394.7 249.0,393.9 252.0,393.2 255.0,392.5 258.0,391.8 261.0,391.1 264.0,390.5 267.0,389.9 270.0,389.3 273.0,388.7 276.0,388.1 279.0,387.5 282.0,387.0 285.0,386.6 288.0,386.1 291.0,385.8 294.0,385.4 297.0,385.1 300.0,384.7 303.0,384.4 306.0,384.1 309.0,383.9 312.0,383.6 315.0,383.4 318.0,383.2 321.0,383.1 324.0,383.0 327.0,382.9 330.0,382.8 333.0,382.7 336.0,382.6 339.0,382.6 342.0,382.5 345.0,382.5 348.0,382.4 351.0,382.4 354.0,382.3 357.0,382.2 360.0,382.1 363.0,382.0 366.0,381.8 369.0,381.6 372.0,381.5 375.0,381.2 378.0,381.0 381.0,380.8 384.0,380.5 387.0,380.2 390.0,379.8 393.0,379.4 396.0,379.0 399.0,378.5 402.0,378.0 405.0,377.4 408.0,376.9 411.0,376.3 414.0,375.6 417.0,375.0 420.0,374.3 423.0,373.6 426.0,373.0 429.0,372.4 432.0,372.0 435.0,371.5 438.0,371.2 441.0,370.9 444.0,370.6 447.0,370.3 450.0,370.1 453.0,370.0 456.0,369.8 459.0,369.8 462.0,369.7 465.0,369.7 468.0,369.8 471.0,369.9 474.0,370.0 477.0,370.1 480.0,370.3 483.0,370.5 486.0,370.7 489.0,371.0 492.0,371.2 495.0,371.5 498.0,371.7 501.0,372.0 504.0,372.3 507.0,372.5 510.0,372.8 513.0,373.0 516.0,373.2 519.0,373.5 522.0,373.7 525.0,373.9 528.0,374.2 531.0,374.4 534.0,374.6 537.0,374.9 540.0,375.1 543.0,375.4 546.0,375.6 549.0,375.9 552.0,376.2 555.0,376.4 558.0,376.6 561.0,376.9 564.0,377.1 567.0,377.3 570.0,377.5 573.0,377.6 576.0,377.8 579.0,377.9 582.0,378.1 585.0,378.2 588.0,378.2 591.0,378.3 594.0,378.4 597.0,378.4 600.0,378.4 603.0,378.4 606.0,378.3 609.0,378.3 612.0,378.2 615.0,378.1 618.0,378.0 621.0,377.9 624.0,377.7 627.0,377.6 630.0,377.4 633.0,377.2 636.0,376.9 639.0,376.7 642.0,376.4 645.0,376.1 648.0,375.8 651.0,375.6 654.0,375.3 657.0,375.0 660.0,374.7 663.0,374.5 666.0,374.2 669.0,374.0 672.0,373.7 675.0,373.5 678.0,373.2 681.0,373.0 684.0,372.8 687.0,372.7 690.0,372.5 693.0,372.4 696.0,372.4 699.0,372.4 702.0,372.4 705.0,372.5 708.0,372.7 711.0,372.9 714.0,373.0 717.0,373.2 720.0,373.3 723.0,373.4 726.0,373.5 729.0,373.6 732.0,373.6 735.0,373.7 738.0,373.7 741.0,373.7 744.0,373.7 747.0,373.7 750.0,373.6 753.0,373.6 756.0,373.5 759.0,373.4 762.0,373.2 765.0,373.2 768.0,373.1 771.0,373.1 774.0,373.1 777.0,373.2 780.0,373.3 783.0,373.4 786.0,373.6 789.0,373.8 792.0,374.1 795.0,374.5 798.0,374.9 801.0,375.4 804.0,375.9 807.0,376.5 810.0,377.0 813.0,377.6 816.0,378.2 819.0,378.8 822.0,379.5 825.0,380.1 828.0,380.7 831.0,381.4 834.0,382.0 837.0,382.6 840.0,383.2 843.0,383.8 846.0,384.3 849.0,384.8 852.0,385.3 855.0,385.7 858.0,386.0 861.0,386.4 864.0,386.7 867.0,387.0 870.0,387.3 873.0,387.6 876.0,387.8 879.0,388.0 882.0,388.2 885.0,388.4 888.0,388.5 891.0,388.5 894.0,388.5 897.0,388.4 900.0,388.2 903.0,387.9 906.0,387.5 909.0,387.1 912.0,386.7 915.0,386.2 918.0,385.7 921.0,385.3 924.0,384.8 927.0,384.3 930.0,383.8 933.0,383.4 936.0,382.9 939.0,382.4 942.0,381.9 945.0,381.4 948.0,380.9 951.0,380.3 954.0,379.7 957.0,379.1 960.0,378.4 963.0,377.7 966.0,377.0 969.0,376.2 972.0,375.5 975.0,374.7 978.0,373.8 981.0,373.0 984.0,372.1 987.0,371.2 990.0,370.4 993.0,369.5 996.0,368.5 999.0,367.6 1002.0,366.6 1005.0,365.6 1008.0,364.5 1011.0,363.4 1014.0,362.3 1017.0,361.2 1020.0,360.0 1023.0,358.8 1026.0,357.6 1029.0,356.3 1032.0,355.1 1035.0,353.9 1038.0,352.7 1041.0,351.6 1044.0,350.4 1047.0,349.3 1050.0,348.1 1053.0,347.0 1056.0,345.9 1059.0,344.7 1062.0,343.4 1065.0,342.1 1068.0,340.7 1071.0,339.3 1074.0,337.8 1077.0,336.3 1080.0,334.8 1083.0,333.3 1086.0,331.8 1089.0,330.3 1092.0,328.7 1095.0,327.1 1098.0,325.5 1101.0,323.8 1104.0,322.2 1107.0,320.5 1110.0,318.9 1113.0,317.2 1116.0,315.6 1119.0,313.9 1122.0,312.3 1125.0,310.7 1128.0,309.1 1131.0,307.6 1134.0,306.1 1137.0,304.6 1140.0,303.1 1143.0,301.7 1146.0,300.3 1149.0,299.0 1152.0,297.7 1155.0,296.5 1158.0,295.3 1161.0,294.1 1164.0,293.0 1167.0,291.9 1170.0,290.8 1173.0,289.7 1176.0,288.6 1179.0,287.6 1182.0,286.6 1185.0,285.6 1188.0,284.7 1191.0,283.7 1194.0,282.7 1197.0,281.8 1200.0,280.9 1203.0,280.0 1206.0,279.1 1209.0,278.3 1212.0,277.4 1215.0,276.5 1218.0,275.7 1221.0,274.9 1224.0,274.2 1227.0,273.5 1230.0,272.9 1233.0,272.2 1236.0,271.6 1239.0,271.0 1242.0,270.3 1245.0,269.7 1248.0,269.0 1251.0,268.4 1254.0,267.7 1257.0,267.1 1260.0,266.4 1263.0,265.8 1266.0,265.1 1269.0,264.5 1272.0,263.9 1275.0,263.3 1278.0,262.7 1281.0,262.0 1284.0,261.3 1287.0,260.7 1290.0,259.9" fill="none" stroke="#2559e6" stroke-width="1.0" stroke-linejoin="round" stroke-linecap="round" />
<polyline points="9.2,380.9 12.2,378.1 15.2,375.4 18.2,372.6 21.2,369.8 24.2,367.0 27.2,364.1 30.2,361.2 33.2,358.2 36.2,355.3 39.2,352.3 42.2,349.4 45.2,346.5 48.2,343.6 51.2,340.7 54.2,337.9 57.2,335.2 60.2,332.6 63.2,330.0 66.2,327.6 69.2,325.2 72.2,322.9 75.2,320.7 78.2,318.6 81.2,316.6 84.2,314.7 87.2,312.9 90.2,311.2 93.2,309.7 96.2,308.3 99.2,307.1 102.2,306.0 105.2,305.0 108.2,304.1 111.2,303.4 114.2,302.8 117.2,302.3 120.2,301.9 123.2,301.4 126.2,300.9 129.2,300.3 132.2,299.6 135.2,298.9 138.2,298.2 141.2,297.6 144.2,297.0 147.2,296.5 150.2,296.1 153.2,295.8 156.2,295.5 159.2,295.5 162.2,295.5 165.2,295.7 168.2,296.0 171.2,296.3 174.2,296.7 177.2,297.0 180.2,297.3 183.2,297.5 186.2,297.8 189.2,297.9 192.2,298.1 195.2,298.2 198.2,298.2 201.2,298.2 204.2,298.0 207.2,297.8 210.2,297.5 213.2,297.1 216.2,296.9 219.2,296.7 222.2,296.7 225.2,296.8 228.2,296.9 231.2,297.1 234.2,297.3 237.2,297.5 240.2,297.7 243.2,297.8 246.2,298.0 249.2,298.2 252.2,298.5 255.2,298.8 258.2,299.1 261.2,299.5 264.2,299.9 267.2,300.4 270.2,300.9 273.2,301.5 276.2,302.1 279.2,302.8 282.2,303.6 285.2,304.5 288.2,305.6 291.2,306.8 294.2,308.1 297.2,309.5 300.2,311.0 303.2,312.5 306.2,314.0 309.2,315.6 312.2,317.3 315.2,319.0 318.2,320.8 321.2,322.7 324.2,324.7 327.2,326.8 330.2,328.9 333.2,331.1 336.2,333.2 339.2,335.4 342.2,337.6 345.2,339.6 348.2,341.7 351.2,343.6 354.2,345.6 357.2,347.5 360.2,349.4 363.2,351.3 366.2,353.1 369.2,354.8 372.2,356.5 375.2,358.2 378.2,359.7 381.2,361.3 384.2,362.8 387.2,364.2 390.2,365.7 393.2,367.1 396.2,368.5 399.2,369.9 402.2,371.3 405.2,372.8 408.2,374.2 411.2,375.7 414.2,377.2 417.2,378.7 420.2,380.2 423.2,381.8 426.2,383.3 429.2,385.0 432.2,386.7 435.2,388.5 438.2,390.4 441.2,392.4 444.2,394.6 447.2,396.9 450.2,399.2 453.2,401.6 456.2,404.0 459.2,406.4 462.2,408.9 465.2,411.3 468.2,413.7 471.2,416.0 474.2,418.4 477.2,420.7 480.2,423.0 483.2,425.1 486.2,427.2 489.2,429.1 492.2,430.9 495.2,432.6 498.2,434.2 501.2,435.7 504.2,437.2 507.2,438.6 510.2,440.0 513.2,441.4 516.2,442.7 519.2,443.9 522.2,445.2 525.2,446.3 528.2,447.5 531.2,448.6 534.2,449.6 537.2,450.6 540.2,451.6 543.2,452.5 546.2,453.3 549.2,454.1 552.2,454.8 555.2,455.4 558.2,455.9 561.2,456.4 564.2,456.8 567.2,457.2 570.2,457.5 573.2,457.8 576.2,458.1 579.2,458.3 582.2,458.5 585.2,458.7 588.2,458.8 591.2,458.9 594.2,459.0 597.2,459.1 600.2,459.2 603.2,459.2 606.2,459.3 609.2,459.3 612.2,459.3 615.2,459.2 618.2,459.1 621.2,459.0 624.2,458.8 627.2,458.5 630.2,458.1 633.2,457.7 636.2,457.2 639.2,456.6 642.2,455.9 645.2,455.3 648.2,454.5 651.2,453.8 654.2,452.9 657.2,452.0 660.2,451.0 663.2,449.9 666.2,448.8 669.2,447.5 672.2,446.3 675.2,445.0 678.2,443.5 681.2,442.1 684.2,440.5 687.2,438.8 690.2,437.1 693.2,435.3 696.2,433.4 699.2,431.6 702.2,429.7 705.2,428.0 708.2,426.3 711.2,424.6 714.2,422.9 717.2,421.2 720.2,419.5 723.2,417.9 726.2,416.2 729.2,414.5 732.2,412.8 735.2,411.1 738.2,409.4 741.2,407.8 744.2,406.1 747.2,404.5 750.2,402.8 753.2,401.1 756.2,399.5 759.2,397.8 762.2,396.1 765.2,394.4 768.2,392.7 771.2,391.1 774.2,389.4 777.2,387.8 780.2,386.3 783.2,384.9 786.2,383.5 789.2,382.3 792.2,381.3 795.2,380.4 798.2,379.6 801.2,379.0 804.2,378.5 807.2,378.0 810.2,377.6 813.2,377.2 816.2,376.7 819.2,376.3 822.2,375.8 825.2,375.3 828.2,374.7 831.2,374.1 834.2,373.5 837.2,372.9 840.2,372.2 843.2,371.5 846.2,370.6 849.2,369.6 852.2,368.4 855.2,367.1 858.2,365.6 861.2,364.1 864.2,362.5 867.2,360.9 870.2,359.2 873.2,357.6 876.2,355.9 879.2,354.1 882.2,352.2 885.2,350.3 888.2,348.3 891.2,346.2 894.2,344.1 897.2,341.9 900.2,339.8 903.2,337.8 906.2,335.7 909.2,333.7 912.2,331.8 915.2,329.8 918.2,327.8 921.2,325.9 924.2,323.9 927.2,322.0 930.2,320.0 933.2,318.1 936.2,316.2 939.2,314.2 942.2,312.3 945.2,310.4 948.2,308.5 951.2,306.5 954.2,304.6 957.2,302.7 960.2,300.7 963.2,298.8 966.2,297.0 969.2,295.1 972.2,293.3 975.2,291.5 978.2,289.7 981.2,287.9 984.2,286.0 987.2,284.1 990.2,282.2 993.2,280.3 996.2,278.3 999.2,276.4 1002.2,274.4 1005.2,272.4 1008.2,270.3 1011.2,268.2 1014.2,266.1 1017.2,264.0 1020.2,261.9 1023.2,259.9 1026.2,257.8 1029.2,255.9 1032.2,254.0 1035.2,252.2 1038.2,250.5 1041.2,248.9 1044.2,247.4 1047.2,245.8 1050.2,244.4 1053.2,242.9 1056.2,241.4 1059.2,239.9 1062.2,238.4 1065.2,236.9 1068.2,235.4 1071.2,233.9 1074.2,232.4 1077.2,230.9 1080.2,229.4 1083.2,227.9 1086.2,226.4 1089.2,224.9 1092.2,223.4 1095.2,221.8 1098.2,220.3 1101.2,218.8 1104.2,217.3 1107.2,215.8 1110.2,214.3 1113.2,212.8 1116.2,211.3 1119.2,209.8 1122.2,208.4 1125.2,207.0 1128.2,205.6 1131.2,204.3 1134.2,203.1 1137.2,201.9 1140.2,200.8 1143.2,199.7 1146.2,198.7 1149.2,197.8 1152.2,196.9 1155.2,196.0 1158.2,195.2 1161.2,194.4 1164.2,193.7 1167.2,192.9 1170.2,192.2 1173.2,191.4 1176.2,190.6 1179.2,189.7 1182.2,188.8 1185.2,187.8 1188.2,186.7 1191.2,185.6 1194.2,184.5 1197.2,183.3 1200.2,182.0 1203.2,180.7 1206.2,179.4 1209.2,178.1 1212.2,176.8 1215.2,175.7 1218.2,174.6 1221.2,173.7 1224.2,172.9 1227.2,172.3 1230.2,171.8 1233.2,171.3 1236.2,171.0 1239.2,170.8 1242.2,170.6 1245.2,170.5 1248.2,170.4 1251.2,170.4 1254.2,170.3 1257.2,170.3 1260.2,170.4 1263.2,170.5 1266.2,170.6 1269.2,170.8 1272.2,171.1 1275.2,171.4 1278.2,171.8 1281.2,172.3 1284.2,172.8 1287.2,173.3 1290.2,173.9" fill="none" stroke="#de2160" stroke-width="1.1" stroke-linejoin="round" stroke-linecap="round" />
<polyline points="9.2,327.6 12.2,322.6 15.2,317.7 18.2,312.8 21.2,307.9 24.2,303.1 27.2,298.3 30.2,293.7 33.2,289.2 36.2,284.7 39.2,280.4 42.2,276.1 45.2,272.1 48.2,268.2 51.2,264.4 54.2,260.7 57.2,257.1 60.2,253.6 63.2,250.2 66.2,247.0 69.2,243.8 72.2,240.6 75.2,237.6 78.2,234.6 81.2,231.8 84.2,229.0 87.2,226.3 90.2,223.7 93.2,221.3 96.2,219.0 99.2,217.1 102.2,215.5 105.2,214.6 108.2,214.3 111.2,214.6 114.2,215.3 117.2,216.0 120.2,216.7 123.2,217.4 126.2,218.2 129.2,219.0 132.2,219.8 135.2,220.8 138.2,221.8 141.2,223.0 144.2,224.2 147.2,225.4 150.2,226.8 153.2,228.2 156.2,229.8 159.2,231.4 162.2,233.1 165.2,234.9 168.2,236.7 171.2,238.8 174.2,240.9 177.2,243.2 180.2,245.5 183.2,247.8 186.2,250.2 189.2,252.8 192.2,255.4 195.2,258.0 198.2,260.6 201.2,263.2 204.2,265.8 207.2,268.5 210.2,271.1 213.2,273.9 216.2,276.8 219.2,280.1 222.2,283.8 225.2,287.8 228.2,291.9 231.2,296.1 234.2,300.5 237.2,305.0 240.2,309.7 243.2,314.5 246.2,319.4 249.2,324.3 252.2,329.1 255.2,334.0 258.2,338.9 261.2,343.8 264.2,348.6 267.2,353.5 270.2,358.4 273.2,363.2 276.2,368.1 279.2,373.0 282.2,377.9 285.2,382.9 288.2,388.0 291.2,393.2 294.2,398.5 297.2,403.6 300.2,408.4 303.2,412.8 306.2,416.7 309.2,420.3 312.2,423.8 315.2,427.1 318.2,430.3 321.2,433.5 324.2,436.6 327.2,439.6 330.2,442.6 333.2,445.4 336.2,448.2 339.2,450.9 342.2,453.7 345.2,456.4 348.2,459.1 351.2,461.7 354.2,464.1 357.2,466.1 360.2,468.0 363.2,469.7 366.2,471.1 369.2,472.4 372.2,473.6 375.2,474.6 378.2,475.4 381.2,476.2 384.2,476.9 387.2,477.5 390.2,478.0 393.2,478.6 396.2,479.1 399.2,479.6 402.2,480.0 405.2,480.3 408.2,480.4 411.2,480.2 414.2,479.7 417.2,478.8 420.2,477.8 423.2,476.6 426.2,475.4 429.2,474.3 432.2,473.2 435.2,472.1 438.2,471.1 441.2,470.2 444.2,469.4 447.2,468.6 450.2,467.9 453.2,467.3 456.2,466.8 459.2,466.4 462.2,466.1 465.2,465.9 468.2,465.7 471.2,465.6 474.2,465.4 477.2,465.3 480.2,465.1 483.2,464.8 486.2,464.4 489.2,463.7 492.2,462.9 495.2,462.1 498.2,461.2 501.2,460.4 504.2,459.6 507.2,458.8 510.2,458.1 513.2,457.4 516.2,456.7 519.2,456.1 522.2,455.5 525.2,454.8 528.2,454.2 531.2,453.4 534.2,452.6 537.2,451.7 540.2,450.7 543.2,449.5 546.2,448.4 549.2,447.3 552.2,446.2 555.2,445.1 558.2,444.2 561.2,443.4 564.2,442.8 567.2,442.3 570.2,441.9 573.2,441.5 576.2,441.1 579.2,440.7 582.2,440.3 585.2,439.9 588.2,439.5 591.2,439.1 594.2,438.8 597.2,438.7 600.2,438.8 603.2,439.1 606.2,439.4 609.2,439.8 612.2,440.2 615.2,440.6 618.2,441.1 621.2,441.5 624.2,441.8 627.2,442.0 630.2,442.1 633.2,442.0 636.2,441.8 639.2,441.5 642.2,441.1 645.2,440.4 648.2,439.6 651.2,438.6 654.2,437.3 657.2,435.9 660.2,434.2 663.2,432.3 666.2,430.2 669.2,427.9 672.2,425.5 675.2,423.0 678.2,420.4 681.2,417.7 684.2,415.1 687.2,412.5 690.2,410.0 693.2,407.5 696.2,405.1 699.2,402.7 702.2,400.3 705.2,397.9 708.2,395.5 711.2,393.2 714.2,390.8 717.2,388.3 720.2,385.8 723.2,383.2 726.2,380.6 729.2,378.1 732.2,375.5 735.2,373.0 738.2,370.5 741.2,367.9 744.2,365.2 747.2,362.5 750.2,359.7 753.2,356.8 756.2,353.7 759.2,350.5 762.2,347.2 765.2,343.9 768.2,340.6 771.2,337.3 774.2,334.2 777.2,331.4 780.2,328.9 783.2,326.8 786.2,325.0 789.2,323.6 792.2,322.3 795.2,321.1 798.2,320.0 801.2,319.0 804.2,317.9 807.2,316.8 810.2,315.7 813.2,314.5 816.2,313.2 819.2,311.9 822.2,310.6 825.2,309.2 828.2,307.8 831.2,306.4 834.2,305.1 837.2,303.8 840.2,302.5 843.2,301.4 846.2,300.3 849.2,299.2 852.2,298.2 855.2,297.3 858.2,296.4 861.2,295.6 864.2,294.8 867.2,294.0 870.2,293.1 873.2,292.1 876.2,290.9 879.2,289.6 882.2,288.2 885.2,286.7 888.2,285.1 891.2,283.5 894.2,281.8 897.2,280.2 900.2,278.5 903.2,276.8 906.2,275.1 909.2,273.6 912.2,272.0 915.2,270.6 918.2,269.1 921.2,267.7 924.2,266.3 927.2,264.9 930.2,263.6 933.2,262.3 936.2,261.1 939.2,260.0 942.2,259.0 945.2,258.0 948.2,257.1 951.2,256.2 954.2,255.4 957.2,254.6 960.2,253.8 963.2,252.9 966.2,252.0 969.2,251.0 972.2,250.0 975.2,249.0 978.2,247.8 981.2,246.5 984.2,245.0 987.2,243.3 990.2,241.3 993.2,239.0 996.2,236.6 999.2,234.0 1002.2,231.3 1005.2,228.4 1008.2,225.5 1011.2,222.5 1014.2,219.6 1017.2,216.6 1020.2,213.9 1023.2,211.3 1026.2,208.8 1029.2,206.3 1032.2,203.8 1035.2,201.3 1038.2,198.9 1041.2,196.4 1044.2,194.0 1047.2,191.6 1050.2,189.3 1053.2,187.1 1056.2,185.0 1059.2,183.0 1062.2,181.1 1065.2,179.2 1068.2,177.4 1071.2,175.6 1074.2,174.0 1077.2,172.4 1080.2,170.8 1083.2,169.3 1086.2,167.9 1089.2,166.4 1092.2,165.1 1095.2,163.7 1098.2,162.4 1101.2,161.1 1104.2,159.9 1107.2,158.8 1110.2,157.6 1113.2,156.4 1116.2,155.2 1119.2,153.9 1122.2,152.7 1125.2,151.4 1128.2,150.0 1131.2,148.7 1134.2,147.3 1137.2,145.9 1140.2,144.5 1143.2,143.1 1146.2,141.8 1149.2,140.5 1152.2,139.3 1155.2,138.2 1158.2,137.2 1161.2,136.2 1164.2,135.3 1167.2,134.6 1170.2,133.9 1173.2,133.3 1176.2,132.8 1179.2,132.3 1182.2,132.0 1185.2,131.7 1188.2,131.5 1191.2,131.5 1194.2,131.6 1197.2,131.7 1200.2,132.0 1203.2,132.3 1206.2,132.8 1209.2,133.4 1212.2,134.0 1215.2,134.8 1218.2,135.7 1221.2,136.7 1224.2,137.7 1227.2,138.9 1230.2,140.2 1233.2,141.5 1236.2,143.0 1239.2,144.5 1242.2,146.2 1245.2,147.9 1248.2,149.6 1251.2,151.5 1254.2,153.4 1257.2,155.3 1260.2,157.4 1263.2,159.5 1266.2,161.6 1269.2,163.8 1272.2,166.2 1275.2,168.6 1278.2,171.1 1281.2,173.7 1284.2,176.4 1287.2,179.3 1290.2,182.2" fill="none" stroke="#d9c93a" stroke-width="1.1" stroke-linejoin="round" stroke-linecap="round" />
<rect x="9" y="202" width="1358" height="2.1" fill="#ffffff"/>
<rect x="1088" y="104.8" width="279" height="2.3" fill="#ffffff"/>
<rect x="632.5" y="343.3" width="734.5" height="4.5" fill="#3f424d" stroke="#ffffff" stroke-opacity="0.58" stroke-width="1"/>
<line x1="277.8" y1="575" x2="1367" y2="304.3" stroke="#2348d6" stroke-width="3.5" stroke-linecap="round"/>
<polygon points="421.8,545.7 421.8,374.5 1203.2,22.0 1312,-27.1 1312.0,145.6" fill="#ffffff" fill-opacity="0.05"/>
<line x1="421.8" y1="374.5" x2="1203.2" y2="22.0" stroke="#4caf50" stroke-width="3.5" stroke-linecap="round"/>
<line x1="421.8" y1="545.7" x2="1312.0" y2="145.6" stroke="#4caf50" stroke-width="3.5" stroke-linecap="round"/>
<rect x="40.5" y="86" width="1326.5" height="4.5" fill="#41444f" stroke="#ffffff" stroke-opacity="0.27" stroke-width="1"/>
<line x1="24.2" y1="65.8" x2="788" y2="604" stroke="#f23645" stroke-width="3.4" stroke-linecap="round"/>
<rect x="1172.5" y="127.5" width="194.5" height="4.5" fill="#454853" stroke="#ffffff" stroke-opacity="0.36" stroke-width="1"/>
<rect x="918.5" y="176.8" width="448.5" height="4.699999999999989" fill="#454853" stroke="#ffffff" stroke-opacity="0.36" stroke-width="1"/>
<rect x="902.5" y="225.5" width="464.5" height="4.5" fill="#454853" stroke="#ffffff" stroke-opacity="0.45" stroke-width="1"/>
<rect x="417.5" y="365.3" width="949.5" height="4.699999999999989" fill="#3a3d49" stroke="#ffffff" stroke-opacity="0.97" stroke-width="1.2"/>
<rect x="1283" y="259.2" width="84" height="3" fill="#ffffff"/>
<text x="46.3" y="75" font-size="14" font-weight="bold" fill="#ffffff" textLength="122" lengthAdjust="spacingAndGlyphs">October 2022 high</text>
<text x="400.3" y="332.5" font-size="14" font-weight="bold" fill="#ffffff" textLength="108" lengthAdjust="spacingAndGlyphs">March 2023 high</text>
<text x="464" y="543" font-size="14" font-weight="bold" fill="#ffffff" textLength="103.5" lengthAdjust="spacingAndGlyphs">March 2023 low</text>
<text x="249" y="597.5" font-size="14" font-weight="bold" fill="#ffffff" textLength="117" lengthAdjust="spacingAndGlyphs">January 2023 low</text>
<text x="1083.2" y="73" font-size="14" font-weight="bold" fill="#ffffff" textLength="143" lengthAdjust="spacingAndGlyphs">November 2023 highs</text>
<g transform="translate(1292,591.1)"><circle r="8.5" fill="none" stroke="#b044c4" stroke-width="1.35"/><path d="M2.5,-4.3 L-3.8,0.4 L-0.5,0.75 L-2.9,4.9 L3.4,0.1 L0.3,-0.3 Z" fill="#b044c4"/><circle cx="6" cy="-5.7" r="3.6" fill="#151925"/><circle cx="6" cy="-5.7" r="2.4" fill="#f23645"/></g>
</g>
<g clip-path="url(#cr)">
<rect x="9" y="616" width="1358" height="58" fill="#7e57c2" fill-opacity="0.12"/>
<line x1="9" y1="616.2" x2="1367" y2="616.2" stroke="#787b86" stroke-width="1" stroke-dasharray="4,4" stroke-opacity="0.38"/>
<line x1="9" y1="644.5" x2="1367" y2="644.5" stroke="#787b86" stroke-width="1" stroke-dasharray="4,4" stroke-opacity="0.38"/>
<line x1="9" y1="674" x2="1367" y2="674" stroke="#787b86" stroke-width="1" stroke-dasharray="4,4" stroke-opacity="0.38"/>
<polygon points="9,616.2 9.2,616.2 13.4,616.2 16.8,616.2 20.1,616.2 23.5,615.1 26.0,613.1 28.5,612.1 31.9,605.9 35.2,604.2 38.6,603.7 41.1,602.5 44.5,602.0 48.3,602.5 50.0,615.1 52.0,616.2 56.2,616.2 60.4,616.2 64.1,616.2 67.5,616.2 71.3,616.2 75.5,616.2 79.7,616.2 83.6,616.2 87.6,616.2 91.5,616.2 95.7,616.2 99.6,616.2 104.1,616.2 107.5,616.2 111.7,616.2 115.3,616.2 119.2,616.2 123.4,616.2 127.6,616.2 131.3,616.2 135.7,616.2 139.4,616.2 143.1,616.2 147.4,616.2 151.1,616.2 155.3,616.2 159.5,616.2 162.9,616.2 167.1,616.2 170.9,616.2 174.6,616.2 178.8,616.2 183.0,616.2 187.2,616.2 190.6,616.2 194.8,616.2 199.0,616.2 203.2,616.2 207.0,616.2 211.2,616.2 214.9,616.2 218.6,616.2 222.5,616.2 226.7,616.2 230.9,616.2 235.1,616.2 239.0,616.2 242.7,616.2 246.7,616.2 250.4,616.2 254.3,616.2 258.8,616.2 261.8,616.2 266.5,616.2 270.2,616.2 274.4,616.2 278.6,616.2 282.3,616.2 285.7,616.2 290.4,616.2 294.1,616.2 297.9,616.2 302.1,616.2 306.3,616.2 310.5,616.2 314.2,616.2 318.1,616.2 322.3,616.2 326.0,616.2 330.2,616.2 334.1,616.2 338.3,616.2 342.1,616.2 346.1,616.2 349.5,616.2 353.9,616.2 358.4,616.2 362.3,616.2 366.0,616.2 370.2,616.2 374.4,616.2 378.6,616.2 382.4,616.2 386.1,616.2 389.5,616.2 393.2,616.2 397.9,616.2 402.1,616.2 405.9,616.2 409.6,616.2 413.8,616.2 417.7,616.2 421.4,616.2 425.1,616.2 429.8,616.2 433.7,616.2 437.3,616.2 441.2,616.2 445.7,616.2 449.6,616.2 453.3,616.2 457.2,616.2 461.7,616.2 465.1,616.2 469.3,616.2 472.6,616.2 477.2,616.2 480.9,616.2 485.1,616.2 488.4,616.2 493.1,616.2 496.5,616.2 500.5,616.2 504.4,616.2 508.6,616.2 512.8,616.2 517.0,616.2 521.2,616.2 525.4,616.2 528.7,616.2 532.6,616.2 536.8,616.2 541.3,616.2 545.2,616.2 548.9,616.2 552.8,616.2 556.8,616.2 560.7,616.2 564.9,616.2 569.1,616.2 572.4,616.2 575.8,616.2 580.0,616.2 584.2,616.2 587.9,616.2 592.2,615.5 596.3,616.2 600.1,616.2 604.0,616.2 608.5,616.2 612.7,616.2 616.9,616.2 620.3,616.2 624.1,616.2 627.8,616.2 632.0,616.2 635.9,616.2 639.6,616.2 643.5,616.2 648.0,616.2 652.2,616.2 656.1,616.2 659.7,616.2 663.9,613.8 668.1,611.4 672.3,614.3 676.5,616.2 680.2,616.2 684.1,616.2 688.0,616.2 692.5,616.2 696.4,616.2 700.1,616.2 703.8,616.2 707.6,616.2 711.5,616.2 715.0,616.2 719.7,616.2 723.1,616.2 726.8,616.2 731.5,616.2 735.2,616.2 739.4,616.2 743.3,613.1 747.3,610.4 751.1,612.6 755.3,610.1 759.5,607.6 763.4,606.4 767.1,613.4 771.3,611.4 775.5,615.1 779.7,614.8 783.1,616.2 786.9,616.2 791.1,616.2 795.3,616.2 799.0,616.2 802.9,616.2 806.6,616.2 810.8,616.2 815.0,616.2 819.2,616.2 823.4,616.2 826.7,616.2 830.9,616.2 835.1,616.2 839.3,616.2 842.7,616.2 846.9,616.2 850.7,616.2 854.4,616.2 858.3,616.2 862.5,616.2 866.5,616.2 870.9,616.2 874.6,616.2 878.5,616.2 882.2,616.2 886.0,616.2 890.0,616.2 893.9,616.2 897.8,615.5 902.0,616.2 906.2,616.2 910.2,616.2 914.1,616.2 918.3,616.2 922.1,616.2 925.8,616.2 929.7,616.2 933.7,616.2 937.6,616.2 941.8,616.2 946.0,616.2 950.0,616.2 953.7,616.2 957.6,616.2 961.8,616.2 966.0,616.2 970.2,616.2 974.4,616.2 978.6,616.2 982.3,616.2 986.1,616.2 990.0,616.2 993.7,616.2 997.4,616.2 1001.8,616.2 1005.8,616.2 1009.7,616.2 1013.9,616.2 1017.6,616.2 1021.4,616.2 1025.6,616.2 1029.5,616.2 1033.2,616.2 1037.0,616.2 1041.6,616.2 1045.4,616.2 1049.5,616.2 1053.8,616.2 1057.5,616.2 1060.9,616.2 1065.1,616.2 1069.0,616.2 1072.6,616.2 1076.8,616.2 1080.7,616.2 1084.7,616.2 1089.1,616.2 1092.8,616.2 1096.7,616.2 1100.9,616.2 1104.6,616.2 1108.8,616.2 1113.0,616.2 1117.2,616.2 1121.0,616.2 1125.2,616.2 1129.2,616.2 1133.1,616.2 1137.0,616.2 1141.0,616.2 1144.9,616.2 1149.1,616.2 1152.9,616.2 1157.0,616.2 1160.8,616.2 1165.0,616.2 1168.7,616.2 1172.9,616.2 1176.8,616.2 1181.0,616.2 1185.4,616.2 1189.6,616.2 1193.5,616.2 1197.2,616.2 1200.5,616.2 1204.7,616.2 1208.9,616.2 1213.1,616.2 1217.0,616.2 1221.5,616.2 1225.4,616.2 1229.1,616.2 1233.0,616.2 1236.7,616.2 1240.8,616.2 1245.0,616.2 1249.2,616.2 1253.4,616.2 1257.6,616.2 1261.8,616.2 1266.0,616.2 1270.2,616.2 1274.4,616.2 1278.6,616.2 1282.8,616.2 1287.9,616.2 1292.1,616.2 1292.1,616.2" fill="#4caf50" fill-opacity="0.16"/><polyline points="9.2,624.4 13.4,621.8 16.8,620.5 20.1,620.2 23.5,615.1 26.0,613.1 28.5,612.1 31.9,605.9 35.2,604.2 38.6,603.7 41.1,602.5 44.5,602.0 48.3,602.5 50.0,615.1 52.0,629.4 56.2,621.8 60.4,632.8 64.1,642.8 67.5,643.7 71.3,636.9 75.5,629.4 79.7,632.8 83.6,636.4 87.6,634.4 91.5,645.0 95.7,645.3 99.6,651.7 104.1,646.2 107.5,671.4 111.7,676.9 115.3,670.2 119.2,671.9 123.4,670.5 127.6,666.0 131.3,663.8 135.7,653.4 139.4,657.1 143.1,663.0 147.4,667.5 151.1,663.8 155.3,665.5 159.5,665.8 162.9,667.2 167.1,676.4 170.9,679.8 174.6,664.7 178.8,661.8 183.0,663.5 187.2,662.5 190.6,663.8 194.8,655.4 199.0,664.7 203.2,664.7 207.0,650.4 211.2,655.1 214.9,654.1 218.6,672.6 222.5,668.5 226.7,668.0 230.9,665.2 235.1,665.2 239.0,660.5 242.7,655.1 246.7,662.1 250.4,668.0 254.3,669.4 258.8,667.5 261.8,657.9 266.5,652.4 270.2,658.4 274.4,659.3 278.6,656.3 282.3,654.6 285.7,668.5 290.4,673.6 294.1,668.0 297.9,669.4 302.1,664.7 306.3,666.3 310.5,657.1 314.2,651.2 318.1,653.7 322.3,656.8 326.0,652.1 330.2,654.6 334.1,650.1 338.3,652.4 342.1,658.8 346.1,660.1 349.5,642.0 353.9,634.9 358.4,644.5 362.3,642.3 366.0,641.1 370.2,642.8 374.4,637.3 378.6,631.9 382.4,627.2 386.1,629.4 389.5,628.6 393.2,627.7 397.9,623.5 402.1,625.2 405.9,626.5 409.6,617.1 413.8,619.3 417.7,619.3 421.4,619.3 425.1,616.5 429.8,627.2 433.7,626.5 437.3,618.8 441.2,618.1 445.7,631.9 449.6,643.7 453.3,654.6 457.2,646.7 461.7,652.4 465.1,650.4 469.3,660.1 472.6,663.5 477.2,654.6 480.9,660.5 485.1,663.5 488.4,663.8 493.1,656.8 496.5,660.1 500.5,646.7 504.4,646.2 508.6,645.7 512.8,648.7 517.0,653.7 521.2,656.3 525.4,651.7 528.7,648.7 532.6,637.3 536.8,636.6 541.3,642.0 545.2,646.2 548.9,636.9 552.8,632.2 556.8,635.6 560.7,631.9 564.9,635.6 569.1,636.4 572.4,636.1 575.8,641.1 580.0,642.3 584.2,639.5 587.9,621.8 592.2,615.5 596.3,626.9 600.1,641.1 604.0,644.0 608.5,640.0 612.7,637.8 616.9,637.3 620.3,644.5 624.1,643.3 627.8,633.9 632.0,631.9 635.9,629.9 639.6,623.5 643.5,616.8 648.0,624.7 652.2,621.0 656.1,621.3 659.7,617.6 663.9,613.8 668.1,611.4 672.3,614.3 676.5,621.0 680.2,626.9 684.1,631.1 688.0,623.8 692.5,628.2 696.4,627.2 700.1,624.4 703.8,636.9 707.6,633.9 711.5,631.9 715.0,627.2 719.7,629.4 723.1,627.7 726.8,616.8 731.5,616.3 735.2,623.5 739.4,620.2 743.3,613.1 747.3,610.4 751.1,612.6 755.3,610.1 759.5,607.6 763.4,606.4 767.1,613.4 771.3,611.4 775.5,615.1 779.7,614.8 783.1,623.5 786.9,644.0 791.1,652.1 795.3,659.6 799.0,669.7 802.9,671.9 806.6,664.7 810.8,664.7 815.0,663.8 819.2,654.6 823.4,650.4 826.7,636.6 830.9,639.0 835.1,644.0 839.3,650.1 842.7,654.6 846.9,641.1 850.7,634.4 854.4,631.6 858.3,628.6 862.5,634.9 866.5,641.7 870.9,636.1 874.6,631.1 878.5,628.9 882.2,623.8 886.0,621.8 890.0,619.3 893.9,618.8 897.8,615.5 902.0,620.5 906.2,625.2 910.2,620.5 914.1,625.2 918.3,634.9 922.1,628.6 925.8,625.5 929.7,624.4 933.7,630.2 937.6,629.4 941.8,635.3 946.0,630.2 950.0,627.7 953.7,620.5 957.6,621.0 961.8,625.5 966.0,621.8 970.2,636.1 974.4,631.1 978.6,629.4 982.3,628.9 986.1,626.0 990.0,629.4 993.7,627.7 997.4,624.4 1001.8,632.8 1005.8,626.0 1009.7,622.7 1013.9,621.0 1017.6,617.6 1021.4,621.0 1025.6,620.7 1029.5,616.5 1033.2,628.6 1037.0,629.4 1041.6,636.4 1045.4,628.9 1049.5,639.0 1053.8,636.6 1057.5,632.8 1060.9,626.5 1065.1,630.2 1069.0,630.6 1072.6,627.7 1076.8,627.2 1080.7,627.2 1084.7,626.9 1089.1,629.9 1092.8,626.9 1096.7,623.5 1100.9,621.0 1104.6,634.4 1108.8,645.7 1113.0,619.3 1117.2,627.7 1121.0,635.3 1125.2,646.2 1129.2,640.0 1133.1,637.3 1137.0,631.6 1141.0,628.9 1144.9,627.2 1149.1,625.5 1152.9,642.0 1157.0,634.4 1160.8,641.1 1165.0,650.4 1168.7,658.4 1172.9,658.4 1176.8,647.5 1181.0,647.4 1185.4,650.1 1189.6,656.3 1193.5,664.2 1197.2,663.5 1200.5,655.4 1204.7,664.7 1208.9,663.0 1213.1,659.6 1217.0,667.2 1221.5,675.2 1225.4,667.2 1229.1,659.6 1233.0,663.0 1236.7,671.4 1240.8,674.7 1245.0,672.2 1249.2,664.7 1253.4,659.6 1257.6,663.8 1261.8,667.2 1266.0,666.3 1270.2,664.7 1274.4,666.3 1278.6,668.9 1282.8,671.4 1287.9,672.2 1292.1,660.5" fill="none" stroke="#7e57c2" stroke-width="1.2" stroke-linejoin="round" stroke-linecap="round" />
<polyline points="9.2,626.5 20.1,626.4 26.8,623.5 36.1,620.5 47.0,615.6 57.1,615.1 62.1,615.6 68.0,618.1 75.5,619.8 81.4,621.8 87.3,624.9 95.7,630.2 104.1,637.8 114.2,646.7 122.6,651.2 132.6,656.8 141.0,660.1 149.4,663.5 159.5,665.8 169.6,666.5 174.6,666.2 181.4,665.2 189.7,665.2 198.1,665.8 204.9,665.2 213.3,663.8 221.7,663.2 228.4,662.5 236.8,662.8 240.0,662.5 246.7,661.8 253.4,663.2 261.8,663.5 270.2,663.5 276.9,661.8 283.7,660.8 290.4,661.8 297.1,663.2 303.8,663.5 310.5,662.1 317.3,661.3 324.0,661.3 330.7,660.8 337.4,660.1 344.1,658.8 349.2,656.3 354.2,653.7 360.9,651.2 367.6,649.2 374.4,647.9 381.1,644.5 387.8,641.7 394.5,638.3 401.2,634.4 408.0,632.2 414.7,629.4 421.4,626.9 426.4,624.9 433.1,623.8 439.9,622.3 444.9,622.3 449.9,624.4 456.7,627.2 461.7,629.4 466.7,632.2 471.8,636.1 475.0,639.0 481.7,644.0 490.1,650.4 496.8,654.6 503.6,655.4 511.9,655.1 522.0,655.4 528.7,654.1 537.1,651.2 545.5,647.9 553.9,644.5 562.3,642.3 570.7,640.3 579.1,638.6 585.8,637.3 592.6,634.4 597.6,633.6 606.0,634.4 614.4,634.9 622.8,636.1 627.8,636.1 634.6,634.9 641.3,633.6 651.4,633.3 658.1,631.1 664.8,627.7 671.5,624.4 678.2,621.8 684.9,621.0 691.7,620.5 698.4,621.3 705.1,623.0 710.0,624.4 716.7,626.0 723.4,627.4 735.2,627.2 743.6,625.5 755.3,622.2 765.4,617.6 773.8,614.8 780.5,613.4 787.3,616.0 794.0,619.8 800.7,626.0 807.4,632.8 814.1,639.0 820.8,645.3 827.6,649.0 834.3,652.4 841.0,655.1 846.0,655.1 852.8,652.1 859.5,647.0 866.2,643.3 872.9,640.3 879.6,637.8 886.4,635.6 893.1,632.2 899.8,628.2 906.5,626.5 913.2,625.7 919.9,625.2 926.7,623.8 933.4,623.5 940.1,624.4 945.0,625.2 953.4,626.5 961.8,626.9 970.2,627.7 978.6,628.2 987.0,628.6 995.4,628.0 1003.8,627.4 1012.2,627.4 1020.6,626.9 1025.6,626.0 1030.7,624.4 1037.4,624.7 1045.8,625.5 1054.2,626.5 1062.6,626.9 1071.0,628.6 1079.4,629.7 1086.1,630.6 1092.8,630.6 1099.5,629.7 1106.2,629.6 1113.0,628.9 1119.7,628.9 1126.4,630.2 1131.4,631.4 1138.1,631.9 1144.9,632.2 1151.6,632.8 1158.3,634.1 1165.0,634.4 1170.1,638.3 1175.1,640.3 1180.1,640.6 1188.8,642.3 1197.2,647.9 1205.6,653.4 1214.0,656.3 1222.4,658.8 1230.8,659.1 1239.2,663.0 1247.6,665.2 1256.0,665.2 1264.4,666.3 1272.8,667.2 1281.2,668.0 1289.6,668.5 1292.1,667.2" fill="none" stroke="#e6d23c" stroke-width="1.3" stroke-linejoin="round" stroke-linecap="round" />
</g>
<text x="1375" y="49.6" font-size="11" fill="#d1d4dc" textLength="36" lengthAdjust="spacingAndGlyphs" stroke="#d1d4dc" stroke-width="0.3">154.000</text>
<text x="1375" y="88.7" font-size="11" fill="#d1d4dc" textLength="36" lengthAdjust="spacingAndGlyphs" stroke="#d1d4dc" stroke-width="0.3">152.000</text>
<text x="1375" y="127.9" font-size="11" fill="#d1d4dc" textLength="36" lengthAdjust="spacingAndGlyphs" stroke="#d1d4dc" stroke-width="0.3">150.000</text>
<text x="1375" y="167.0" font-size="11" fill="#d1d4dc" textLength="36" lengthAdjust="spacingAndGlyphs" stroke="#d1d4dc" stroke-width="0.3">148.000</text>
<text x="1375" y="206.2" font-size="11" fill="#d1d4dc" textLength="36" lengthAdjust="spacingAndGlyphs" stroke="#d1d4dc" stroke-width="0.3">146.000</text>
<text x="1375" y="245.3" font-size="11" fill="#d1d4dc" textLength="36" lengthAdjust="spacingAndGlyphs" stroke="#d1d4dc" stroke-width="0.3">144.000</text>
<text x="1375" y="323.6" font-size="11" fill="#d1d4dc" textLength="36" lengthAdjust="spacingAndGlyphs" stroke="#d1d4dc" stroke-width="0.3">140.000</text>
<text x="1375" y="362.7" font-size="11" fill="#d1d4dc" textLength="36" lengthAdjust="spacingAndGlyphs" stroke="#d1d4dc" stroke-width="0.3">138.000</text>
<text x="1375" y="401.9" font-size="11" fill="#d1d4dc" textLength="36" lengthAdjust="spacingAndGlyphs" stroke="#d1d4dc" stroke-width="0.3">136.000</text>
<text x="1375" y="441.0" font-size="11" fill="#d1d4dc" textLength="36" lengthAdjust="spacingAndGlyphs" stroke="#d1d4dc" stroke-width="0.3">134.000</text>
<text x="1375" y="480.1" font-size="11" fill="#d1d4dc" textLength="36" lengthAdjust="spacingAndGlyphs" stroke="#d1d4dc" stroke-width="0.3">132.000</text>
<text x="1375" y="519.3" font-size="11" fill="#d1d4dc" textLength="36" lengthAdjust="spacingAndGlyphs" stroke="#d1d4dc" stroke-width="0.3">130.000</text>
<text x="1375" y="558.4" font-size="11" fill="#d1d4dc" textLength="36" lengthAdjust="spacingAndGlyphs" stroke="#d1d4dc" stroke-width="0.3">128.000</text>
<text x="1375" y="597.6" font-size="11" fill="#d1d4dc" textLength="36" lengthAdjust="spacingAndGlyphs" stroke="#d1d4dc" stroke-width="0.3">126.000</text>
<text x="1375" y="634.2" font-size="11" fill="#d1d4dc" textLength="25.5" lengthAdjust="spacingAndGlyphs" stroke="#d1d4dc" stroke-width="0.3">60.00</text>
<text x="1375" y="663.3" font-size="11" fill="#d1d4dc" textLength="25.5" lengthAdjust="spacingAndGlyphs" stroke="#d1d4dc" stroke-width="0.3">40.00</text>
<rect x="1367" y="99" width="50" height="15" rx="2" fill="#ffffff"/>
<text x="1375" y="110.5" font-size="11" fill="#131722" textLength="36" lengthAdjust="spacingAndGlyphs" stroke="#131722" stroke-width="0.3">150.900</text>
<rect x="1323" y="273.5" width="94" height="15.5" rx="2" fill="#22a597"/>
<line x1="1367" y1="273.5" x2="1367" y2="289" stroke="#1a8578" stroke-width="1"/>
<text x="1327.5" y="285.2" font-size="11" fill="#ffffff" textLength="35" lengthAdjust="spacingAndGlyphs" stroke="#ffffff" stroke-width="0.3">USDJPY</text>
<text x="1375" y="285.2" font-size="11" fill="#ffffff" textLength="36" lengthAdjust="spacingAndGlyphs" stroke="#ffffff" stroke-width="0.3">141.970</text>
<text x="71.1" y="700" font-size="10.5" fill="#d1d4dc" textLength="17.7" lengthAdjust="spacingAndGlyphs" stroke="#d1d4dc" stroke-width="0.3">Nov</text>
<text x="157.6" y="700" font-size="10.5" fill="#d1d4dc" textLength="17.7" lengthAdjust="spacingAndGlyphs" stroke="#d1d4dc" stroke-width="0.3">Dec</text>
<text x="242.2" y="700" font-size="10.5" fill="#d1d4dc" textLength="23.5" lengthAdjust="spacingAndGlyphs" stroke="#d1d4dc" stroke-width="0.6">2023</text>
<text x="332.4" y="700" font-size="10.5" fill="#d1d4dc" textLength="17.2" lengthAdjust="spacingAndGlyphs" stroke="#d1d4dc" stroke-width="0.3">Feb</text>
<text x="412.4" y="700" font-size="10.5" fill="#d1d4dc" textLength="17.2" lengthAdjust="spacingAndGlyphs" stroke="#d1d4dc" stroke-width="0.3">Mar</text>
<text x="504.2" y="700" font-size="10.5" fill="#d1d4dc" textLength="15.5" lengthAdjust="spacingAndGlyphs" stroke="#d1d4dc" stroke-width="0.3">Apr</text>
<text x="582.6" y="700" font-size="10.5" fill="#d1d4dc" textLength="18.8" lengthAdjust="spacingAndGlyphs" stroke="#d1d4dc" stroke-width="0.3">May</text>
<text x="675.0" y="700" font-size="10.5" fill="#d1d4dc" textLength="16.1" lengthAdjust="spacingAndGlyphs" stroke="#d1d4dc" stroke-width="0.3">Jun</text>
<text x="763.6" y="700" font-size="10.5" fill="#d1d4dc" textLength="12.8" lengthAdjust="spacingAndGlyphs" stroke="#d1d4dc" stroke-width="0.3">Jul</text>
<text x="844.1" y="700" font-size="10.5" fill="#d1d4dc" textLength="17.7" lengthAdjust="spacingAndGlyphs" stroke="#d1d4dc" stroke-width="0.3">Aug</text>
<text x="936.1" y="700" font-size="10.5" fill="#d1d4dc" textLength="17.7" lengthAdjust="spacingAndGlyphs" stroke="#d1d4dc" stroke-width="0.3">Sep</text>
<text x="1020.2" y="700" font-size="10.5" fill="#d1d4dc" textLength="15.5" lengthAdjust="spacingAndGlyphs" stroke="#d1d4dc" stroke-width="0.3">Oct</text>
<text x="1108.1" y="700" font-size="10.5" fill="#d1d4dc" textLength="17.7" lengthAdjust="spacingAndGlyphs" stroke="#d1d4dc" stroke-width="0.3">Nov</text>
<text x="1195.1" y="700" font-size="10.5" fill="#d1d4dc" textLength="17.7" lengthAdjust="spacingAndGlyphs" stroke="#d1d4dc" stroke-width="0.3">Dec</text>
<text x="1276.2" y="700" font-size="10.5" fill="#d1d4dc" textLength="23.5" lengthAdjust="spacingAndGlyphs" stroke="#d1d4dc" stroke-width="0.6">2024</text>
<g fill="#d1d4dc"><path d="M9,718.3 H16 V726.8 H12.3 V722 H9 Z"/><circle cx="18.6" cy="719.9" r="1.25"/><path d="M22,718.3 H26.1 L23.1,726.8 H19.3 Z"/></g>
<text x="29.6" y="728" font-size="13" fill="#d1d4dc" textLength="61.5" lengthAdjust="spacingAndGlyphs" stroke="#d1d4dc" stroke-width="0.3">TradingView</text>
<defs><clipPath id="wmclip"><path d="M1195.0,648.0 L1204.2,648.0 L1202.2,662.1 L1193.4,662.1Z M1190.6,663.7 L1199.7,663.7 L1197.7,675.6 L1189.8,675.6Z M1180.9,699.9 L1190.6,699.9 L1200.0,678.9 L1190.2,678.9 L1189.8,675.6 L1197.7,675.6 L1198.1,674.3 L1205.7,674.3 L1203.2,678.9 L1200.0,678.9Z M1214.1,646.6 L1226.3,646.6 L1225.0,649.1 L1246.2,649.1 L1244.3,657.1 L1207.4,657.1 L1209.9,650.4Z M1255.9,647.0 L1304.6,647.0 L1303.1,653.8 L1254.1,653.8Z M1294.4,653.8 L1303.1,653.8 L1294.6,693.2 L1285.7,693.2Z M1252.6,657.1 L1261.8,657.1 L1259.1,668.0 L1249.9,668.0Z M1249.9,668.0 L1300.3,668.0 L1298.6,675.6 L1248.4,675.6Z M1245.9,683.1 L1285.3,683.1 L1283.5,690.0 L1243.9,690.0Z M1270.2,693.2 L1295.8,693.2 L1293.7,699.9 L1268.1,699.9Z M1313.9,647.0 L1322.3,647.0 L1311.8,685.6 L1303.5,685.6Z M1313.9,647.0 L1339.5,647.0 L1337.1,656.9 L1311.3,656.9Z M1331.2,647.0 L1339.5,647.0 L1329.9,685.6 L1321.5,685.6Z M1322.2,658.8 L1327.0,658.8 L1320.5,681.4 L1315.7,681.4Z M1308.9,684.0 L1317.7,684.0 L1310.6,699.9 L1300.5,699.9Z M1320.2,685.6 L1329.9,685.6 L1327.0,699.9 L1316.0,699.9Z M1340.0,650.4 L1368.1,650.4 L1365.8,660.0 L1337.4,660.0Z M1359.3,647.0 L1367.8,647.0 L1355.9,699.9 L1347.1,699.9Z M1340.4,692.8 L1357.2,692.8 L1355.1,699.9 L1338.3,699.9Z M1349.2,660.0 L1358.4,660.0 L1337.4,699.9 L1327.8,699.9Z M1382.7,647.0 L1392.3,647.0 L1380.1,668.9 L1369.7,668.9Z M1370.9,663.0 L1392.7,663.0 L1389.4,668.9 L1369.7,668.9Z M1384.3,663.0 L1393.2,663.0 L1376.8,686.5 L1365.0,686.5Z M1366.3,679.4 L1386.9,679.4 L1385.2,686.5 L1364.6,686.5Z M1363.4,692.4 L1383.1,692.4 L1381.0,699.9 L1361.3,699.9Z M1397.8,647.0 L1427.1,647.0 L1425.0,653.8 L1396.1,653.8Z M1414.6,653.8 L1425.0,653.8 L1403.6,673.5 L1391.5,673.5Z M1408.3,663.4 L1422.1,667.2 L1420.4,673.5 L1391.5,673.5 L1392.3,669.7 L1403.6,669.7Z M1388.5,676.8 L1420.0,676.8 L1418.3,683.1 L1386.9,683.1Z M1399.4,683.1 L1409.5,683.1 L1406.6,693.2 L1396.5,693.2Z M1385.2,693.2 L1415.0,693.2 L1412.9,699.9 L1383.5,699.9Z"/><path clip-rule="evenodd" d="M1206.1,660.0 L1242.8,660.0 L1233.8,699.9 L1199.4,699.9Z M1213.7,666.3 L1219.1,666.3 L1217.3,674.3 L1211.6,674.3Z M1225.8,666.3 L1231.7,666.3 L1229.9,674.3 L1223.7,674.3Z M1209.5,678.9 L1216.2,678.9 L1213.3,692.4 L1206.5,692.4Z M1222.5,678.9 L1229.2,678.9 L1226.3,692.4 L1219.5,692.4Z"/></clipPath></defs>
<g id="wm">
<g transform="translate(1.6,1.6)" fill="#0b0d16" fill-opacity="0.55"><path d="M1195.0,648.0 L1204.2,648.0 L1202.2,662.1 L1193.4,662.1Z M1190.6,663.7 L1199.7,663.7 L1197.7,675.6 L1189.8,675.6Z M1180.9,699.9 L1190.6,699.9 L1200.0,678.9 L1190.2,678.9 L1189.8,675.6 L1197.7,675.6 L1198.1,674.3 L1205.7,674.3 L1203.2,678.9 L1200.0,678.9Z M1214.1,646.6 L1226.3,646.6 L1225.0,649.1 L1246.2,649.1 L1244.3,657.1 L1207.4,657.1 L1209.9,650.4Z M1255.9,647.0 L1304.6,647.0 L1303.1,653.8 L1254.1,653.8Z M1294.4,653.8 L1303.1,653.8 L1294.6,693.2 L1285.7,693.2Z M1252.6,657.1 L1261.8,657.1 L1259.1,668.0 L1249.9,668.0Z M1249.9,668.0 L1300.3,668.0 L1298.6,675.6 L1248.4,675.6Z M1245.9,683.1 L1285.3,683.1 L1283.5,690.0 L1243.9,690.0Z M1270.2,693.2 L1295.8,693.2 L1293.7,699.9 L1268.1,699.9Z M1313.9,647.0 L1322.3,647.0 L1311.8,685.6 L1303.5,685.6Z M1313.9,647.0 L1339.5,647.0 L1337.1,656.9 L1311.3,656.9Z M1331.2,647.0 L1339.5,647.0 L1329.9,685.6 L1321.5,685.6Z M1322.2,658.8 L1327.0,658.8 L1320.5,681.4 L1315.7,681.4Z M1308.9,684.0 L1317.7,684.0 L1310.6,699.9 L1300.5,699.9Z M1320.2,685.6 L1329.9,685.6 L1327.0,699.9 L1316.0,699.9Z M1340.0,650.4 L1368.1,650.4 L1365.8,660.0 L1337.4,660.0Z M1359.3,647.0 L1367.8,647.0 L1355.9,699.9 L1347.1,699.9Z M1340.4,692.8 L1357.2,692.8 L1355.1,699.9 L1338.3,699.9Z M1349.2,660.0 L1358.4,660.0 L1337.4,699.9 L1327.8,699.9Z M1382.7,647.0 L1392.3,647.0 L1380.1,668.9 L1369.7,668.9Z M1370.9,663.0 L1392.7,663.0 L1389.4,668.9 L1369.7,668.9Z M1384.3,663.0 L1393.2,663.0 L1376.8,686.5 L1365.0,686.5Z M1366.3,679.4 L1386.9,679.4 L1385.2,686.5 L1364.6,686.5Z M1363.4,692.4 L1383.1,692.4 L1381.0,699.9 L1361.3,699.9Z M1397.8,647.0 L1427.1,647.0 L1425.0,653.8 L1396.1,653.8Z M1414.6,653.8 L1425.0,653.8 L1403.6,673.5 L1391.5,673.5Z M1408.3,663.4 L1422.1,667.2 L1420.4,673.5 L1391.5,673.5 L1392.3,669.7 L1403.6,669.7Z M1388.5,676.8 L1420.0,676.8 L1418.3,683.1 L1386.9,683.1Z M1399.4,683.1 L1409.5,683.1 L1406.6,693.2 L1396.5,693.2Z M1385.2,693.2 L1415.0,693.2 L1412.9,699.9 L1383.5,699.9Z"/><path fill-rule="evenodd" d="M1206.1,660.0 L1242.8,660.0 L1233.8,699.9 L1199.4,699.9Z M1213.7,666.3 L1219.1,666.3 L1217.3,674.3 L1211.6,674.3Z M1225.8,666.3 L1231.7,666.3 L1229.9,674.3 L1223.7,674.3Z M1209.5,678.9 L1216.2,678.9 L1213.3,692.4 L1206.5,692.4Z M1222.5,678.9 L1229.2,678.9 L1226.3,692.4 L1219.5,692.4Z"/></g>
<g fill="#9b9da6" fill-opacity="0.94"><path d="M1195.0,648.0 L1204.2,648.0 L1202.2,662.1 L1193.4,662.1Z M1190.6,663.7 L1199.7,663.7 L1197.7,675.6 L1189.8,675.6Z M1180.9,699.9 L1190.6,699.9 L1200.0,678.9 L1190.2,678.9 L1189.8,675.6 L1197.7,675.6 L1198.1,674.3 L1205.7,674.3 L1203.2,678.9 L1200.0,678.9Z M1214.1,646.6 L1226.3,646.6 L1225.0,649.1 L1246.2,649.1 L1244.3,657.1 L1207.4,657.1 L1209.9,650.4Z M1255.9,647.0 L1304.6,647.0 L1303.1,653.8 L1254.1,653.8Z M1294.4,653.8 L1303.1,653.8 L1294.6,693.2 L1285.7,693.2Z M1252.6,657.1 L1261.8,657.1 L1259.1,668.0 L1249.9,668.0Z M1249.9,668.0 L1300.3,668.0 L1298.6,675.6 L1248.4,675.6Z M1245.9,683.1 L1285.3,683.1 L1283.5,690.0 L1243.9,690.0Z M1270.2,693.2 L1295.8,693.2 L1293.7,699.9 L1268.1,699.9Z M1313.9,647.0 L1322.3,647.0 L1311.8,685.6 L1303.5,685.6Z M1313.9,647.0 L1339.5,647.0 L1337.1,656.9 L1311.3,656.9Z M1331.2,647.0 L1339.5,647.0 L1329.9,685.6 L1321.5,685.6Z M1322.2,658.8 L1327.0,658.8 L1320.5,681.4 L1315.7,681.4Z M1308.9,684.0 L1317.7,684.0 L1310.6,699.9 L1300.5,699.9Z M1320.2,685.6 L1329.9,685.6 L1327.0,699.9 L1316.0,699.9Z M1340.0,650.4 L1368.1,650.4 L1365.8,660.0 L1337.4,660.0Z M1359.3,647.0 L1367.8,647.0 L1355.9,699.9 L1347.1,699.9Z M1340.4,692.8 L1357.2,692.8 L1355.1,699.9 L1338.3,699.9Z M1349.2,660.0 L1358.4,660.0 L1337.4,699.9 L1327.8,699.9Z M1382.7,647.0 L1392.3,647.0 L1380.1,668.9 L1369.7,668.9Z M1370.9,663.0 L1392.7,663.0 L1389.4,668.9 L1369.7,668.9Z M1384.3,663.0 L1393.2,663.0 L1376.8,686.5 L1365.0,686.5Z M1366.3,679.4 L1386.9,679.4 L1385.2,686.5 L1364.6,686.5Z M1363.4,692.4 L1383.1,692.4 L1381.0,699.9 L1361.3,699.9Z M1397.8,647.0 L1427.1,647.0 L1425.0,653.8 L1396.1,653.8Z M1414.6,653.8 L1425.0,653.8 L1403.6,673.5 L1391.5,673.5Z M1408.3,663.4 L1422.1,667.2 L1420.4,673.5 L1391.5,673.5 L1392.3,669.7 L1403.6,669.7Z M1388.5,676.8 L1420.0,676.8 L1418.3,683.1 L1386.9,683.1Z M1399.4,683.1 L1409.5,683.1 L1406.6,693.2 L1396.5,693.2Z M1385.2,693.2 L1415.0,693.2 L1412.9,699.9 L1383.5,699.9Z"/><path fill-rule="evenodd" d="M1206.1,660.0 L1242.8,660.0 L1233.8,699.9 L1199.4,699.9Z M1213.7,666.3 L1219.1,666.3 L1217.3,674.3 L1211.6,674.3Z M1225.8,666.3 L1231.7,666.3 L1229.9,674.3 L1223.7,674.3Z M1209.5,678.9 L1216.2,678.9 L1213.3,692.4 L1206.5,692.4Z M1222.5,678.9 L1229.2,678.9 L1226.3,692.4 L1219.5,692.4Z"/></g>
<g font-family="Liberation Sans, sans-serif" font-weight="bold" font-style="italic" font-size="33">
<text x="1196.1" y="735.1" fill="#0b0d16" fill-opacity="0.6" stroke="#0b0d16" stroke-opacity="0.6" stroke-width="1.1">z</text>
<text x="1222.6" y="735.1" fill="#0b0d16" fill-opacity="0.6" stroke="#0b0d16" stroke-opacity="0.6" stroke-width="1.1">z</text>
<text x="1251.1" y="735.1" fill="#0b0d16" fill-opacity="0.6" stroke="#0b0d16" stroke-opacity="0.6" stroke-width="1.1">r</text>
<text x="1275.6" y="735.1" fill="#0b0d16" fill-opacity="0.6" stroke="#0b0d16" stroke-opacity="0.6" stroke-width="1.1">t</text>
<text x="1294.6" y="735.1" fill="#0b0d16" fill-opacity="0.6" stroke="#0b0d16" stroke-opacity="0.6" stroke-width="1.1">0</text>
<text x="1327.6" y="735.1" fill="#0b0d16" fill-opacity="0.6" stroke="#0b0d16" stroke-opacity="0.6" stroke-width="1.1">1</text>
<text x="1352.6" y="735.1" fill="#0b0d16" fill-opacity="0.6" stroke="#0b0d16" stroke-opacity="0.6" stroke-width="1.1">.</text>
<text x="1372.6" y="735.1" fill="#0b0d16" fill-opacity="0.6" stroke="#0b0d16" stroke-opacity="0.6" stroke-width="1.1">c</text>
<text x="1397.1" y="735.1" fill="#0b0d16" fill-opacity="0.6" stroke="#0b0d16" stroke-opacity="0.6" stroke-width="1.1">n</text>
<text x="1194.5" y="733.5" fill="#24439e" fill-opacity="1" stroke="#24439e" stroke-opacity="1" stroke-width="1.1">z</text>
<text x="1221" y="733.5" fill="#24439e" fill-opacity="1" stroke="#24439e" stroke-opacity="1" stroke-width="1.1">z</text>
<text x="1249.5" y="733.5" fill="#24439e" fill-opacity="1" stroke="#24439e" stroke-opacity="1" stroke-width="1.1">r</text>
<text x="1274" y="733.5" fill="#24439e" fill-opacity="1" stroke="#24439e" stroke-opacity="1" stroke-width="1.1">t</text>
<text x="1293" y="733.5" fill="#24439e" fill-opacity="1" stroke="#24439e" stroke-opacity="1" stroke-width="1.1">0</text>
<text x="1326" y="733.5" fill="#24439e" fill-opacity="1" stroke="#24439e" stroke-opacity="1" stroke-width="1.1">1</text>
<text x="1351" y="733.5" fill="#24439e" fill-opacity="1" stroke="#24439e" stroke-opacity="1" stroke-width="1.1">.</text>
<text x="1371" y="733.5" fill="#24439e" fill-opacity="1" stroke="#24439e" stroke-opacity="1" stroke-width="1.1">c</text>
<text x="1395.5" y="733.5" fill="#24439e" fill-opacity="1" stroke="#24439e" stroke-opacity="1" stroke-width="1.1">n</text>
</g></g>

<g clip-path="url(#wmclip)"><g clip-path="url(#cr)"><polyline points="9.2,624.4 13.4,621.8 16.8,620.5 20.1,620.2 23.5,615.1 26.0,613.1 28.5,612.1 31.9,605.9 35.2,604.2 38.6,603.7 41.1,602.5 44.5,602.0 48.3,602.5 50.0,615.1 52.0,629.4 56.2,621.8 60.4,632.8 64.1,642.8 67.5,643.7 71.3,636.9 75.5,629.4 79.7,632.8 83.6,636.4 87.6,634.4 91.5,645.0 95.7,645.3 99.6,651.7 104.1,646.2 107.5,671.4 111.7,676.9 115.3,670.2 119.2,671.9 123.4,670.5 127.6,666.0 131.3,663.8 135.7,653.4 139.4,657.1 143.1,663.0 147.4,667.5 151.1,663.8 155.3,665.5 159.5,665.8 162.9,667.2 167.1,676.4 170.9,679.8 174.6,664.7 178.8,661.8 183.0,663.5 187.2,662.5 190.6,663.8 194.8,655.4 199.0,664.7 203.2,664.7 207.0,650.4 211.2,655.1 214.9,654.1 218.6,672.6 222.5,668.5 226.7,668.0 230.9,665.2 235.1,665.2 239.0,660.5 242.7,655.1 246.7,662.1 250.4,668.0 254.3,669.4 258.8,667.5 261.8,657.9 266.5,652.4 270.2,658.4 274.4,659.3 278.6,656.3 282.3,654.6 285.7,668.5 290.4,673.6 294.1,668.0 297.9,669.4 302.1,664.7 306.3,666.3 310.5,657.1 314.2,651.2 318.1,653.7 322.3,656.8 326.0,652.1 330.2,654.6 334.1,650.1 338.3,652.4 342.1,658.8 346.1,660.1 349.5,642.0 353.9,634.9 358.4,644.5 362.3,642.3 366.0,641.1 370.2,642.8 374.4,637.3 378.6,631.9 382.4,627.2 386.1,629.4 389.5,628.6 393.2,627.7 397.9,623.5 402.1,625.2 405.9,626.5 409.6,617.1 413.8,619.3 417.7,619.3 421.4,619.3 425.1,616.5 429.8,627.2 433.7,626.5 437.3,618.8 441.2,618.1 445.7,631.9 449.6,643.7 453.3,654.6 457.2,646.7 461.7,652.4 465.1,650.4 469.3,660.1 472.6,663.5 477.2,654.6 480.9,660.5 485.1,663.5 488.4,663.8 493.1,656.8 496.5,660.1 500.5,646.7 504.4,646.2 508.6,645.7 512.8,648.7 517.0,653.7 521.2,656.3 525.4,651.7 528.7,648.7 532.6,637.3 536.8,636.6 541.3,642.0 545.2,646.2 548.9,636.9 552.8,632.2 556.8,635.6 560.7,631.9 564.9,635.6 569.1,636.4 572.4,636.1 575.8,641.1 580.0,642.3 584.2,639.5 587.9,621.8 592.2,615.5 596.3,626.9 600.1,641.1 604.0,644.0 608.5,640.0 612.7,637.8 616.9,637.3 620.3,644.5 624.1,643.3 627.8,633.9 632.0,631.9 635.9,629.9 639.6,623.5 643.5,616.8 648.0,624.7 652.2,621.0 656.1,621.3 659.7,617.6 663.9,613.8 668.1,611.4 672.3,614.3 676.5,621.0 680.2,626.9 684.1,631.1 688.0,623.8 692.5,628.2 696.4,627.2 700.1,624.4 703.8,636.9 707.6,633.9 711.5,631.9 715.0,627.2 719.7,629.4 723.1,627.7 726.8,616.8 731.5,616.3 735.2,623.5 739.4,620.2 743.3,613.1 747.3,610.4 751.1,612.6 755.3,610.1 759.5,607.6 763.4,606.4 767.1,613.4 771.3,611.4 775.5,615.1 779.7,614.8 783.1,623.5 786.9,644.0 791.1,652.1 795.3,659.6 799.0,669.7 802.9,671.9 806.6,664.7 810.8,664.7 815.0,663.8 819.2,654.6 823.4,650.4 826.7,636.6 830.9,639.0 835.1,644.0 839.3,650.1 842.7,654.6 846.9,641.1 850.7,634.4 854.4,631.6 858.3,628.6 862.5,634.9 866.5,641.7 870.9,636.1 874.6,631.1 878.5,628.9 882.2,623.8 886.0,621.8 890.0,619.3 893.9,618.8 897.8,615.5 902.0,620.5 906.2,625.2 910.2,620.5 914.1,625.2 918.3,634.9 922.1,628.6 925.8,625.5 929.7,624.4 933.7,630.2 937.6,629.4 941.8,635.3 946.0,630.2 950.0,627.7 953.7,620.5 957.6,621.0 961.8,625.5 966.0,621.8 970.2,636.1 974.4,631.1 978.6,629.4 982.3,628.9 986.1,626.0 990.0,629.4 993.7,627.7 997.4,624.4 1001.8,632.8 1005.8,626.0 1009.7,622.7 1013.9,621.0 1017.6,617.6 1021.4,621.0 1025.6,620.7 1029.5,616.5 1033.2,628.6 1037.0,629.4 1041.6,636.4 1045.4,628.9 1049.5,639.0 1053.8,636.6 1057.5,632.8 1060.9,626.5 1065.1,630.2 1069.0,630.6 1072.6,627.7 1076.8,627.2 1080.7,627.2 1084.7,626.9 1089.1,629.9 1092.8,626.9 1096.7,623.5 1100.9,621.0 1104.6,634.4 1108.8,645.7 1113.0,619.3 1117.2,627.7 1121.0,635.3 1125.2,646.2 1129.2,640.0 1133.1,637.3 1137.0,631.6 1141.0,628.9 1144.9,627.2 1149.1,625.5 1152.9,642.0 1157.0,634.4 1160.8,641.1 1165.0,650.4 1168.7,658.4 1172.9,658.4 1176.8,647.5 1181.0,647.4 1185.4,650.1 1189.6,656.3 1193.5,664.2 1197.2,663.5 1200.5,655.4 1204.7,664.7 1208.9,663.0 1213.1,659.6 1217.0,667.2 1221.5,675.2 1225.4,667.2 1229.1,659.6 1233.0,663.0 1236.7,671.4 1240.8,674.7 1245.0,672.2 1249.2,664.7 1253.4,659.6 1257.6,663.8 1261.8,667.2 1266.0,666.3 1270.2,664.7 1274.4,666.3 1278.6,668.9 1282.8,671.4 1287.9,672.2 1292.1,660.5" fill="none" stroke="#e4e1ee" stroke-width="1.0" stroke-linejoin="round" stroke-linecap="round" />
<polyline points="9.2,626.5 20.1,626.4 26.8,623.5 36.1,620.5 47.0,615.6 57.1,615.1 62.1,615.6 68.0,618.1 75.5,619.8 81.4,621.8 87.3,624.9 95.7,630.2 104.1,637.8 114.2,646.7 122.6,651.2 132.6,656.8 141.0,660.1 149.4,663.5 159.5,665.8 169.6,666.5 174.6,666.2 181.4,665.2 189.7,665.2 198.1,665.8 204.9,665.2 213.3,663.8 221.7,663.2 228.4,662.5 236.8,662.8 240.0,662.5 246.7,661.8 253.4,663.2 261.8,663.5 270.2,663.5 276.9,661.8 283.7,660.8 290.4,661.8 297.1,663.2 303.8,663.5 310.5,662.1 317.3,661.3 324.0,661.3 330.7,660.8 337.4,660.1 344.1,658.8 349.2,656.3 354.2,653.7 360.9,651.2 367.6,649.2 374.4,647.9 381.1,644.5 387.8,641.7 394.5,638.3 401.2,634.4 408.0,632.2 414.7,629.4 421.4,626.9 426.4,624.9 433.1,623.8 439.9,622.3 444.9,622.3 449.9,624.4 456.7,627.2 461.7,629.4 466.7,632.2 471.8,636.1 475.0,639.0 481.7,644.0 490.1,650.4 496.8,654.6 503.6,655.4 511.9,655.1 522.0,655.4 528.7,654.1 537.1,651.2 545.5,647.9 553.9,644.5 562.3,642.3 570.7,640.3 579.1,638.6 585.8,637.3 592.6,634.4 597.6,633.6 606.0,634.4 614.4,634.9 622.8,636.1 627.8,636.1 634.6,634.9 641.3,633.6 651.4,633.3 658.1,631.1 664.8,627.7 671.5,624.4 678.2,621.8 684.9,621.0 691.7,620.5 698.4,621.3 705.1,623.0 710.0,624.4 716.7,626.0 723.4,627.4 735.2,627.2 743.6,625.5 755.3,622.2 765.4,617.6 773.8,614.8 780.5,613.4 787.3,616.0 794.0,619.8 800.7,626.0 807.4,632.8 814.1,639.0 820.8,645.3 827.6,649.0 834.3,652.4 841.0,655.1 846.0,655.1 852.8,652.1 859.5,647.0 866.2,643.3 872.9,640.3 879.6,637.8 886.4,635.6 893.1,632.2 899.8,628.2 906.5,626.5 913.2,625.7 919.9,625.2 926.7,623.8 933.4,623.5 940.1,624.4 945.0,625.2 953.4,626.5 961.8,626.9 970.2,627.7 978.6,628.2 987.0,628.6 995.4,628.0 1003.8,627.4 1012.2,627.4 1020.6,626.9 1025.6,626.0 1030.7,624.4 1037.4,624.7 1045.8,625.5 1054.2,626.5 1062.6,626.9 1071.0,628.6 1079.4,629.7 1086.1,630.6 1092.8,630.6 1099.5,629.7 1106.2,629.6 1113.0,628.9 1119.7,628.9 1126.4,630.2 1131.4,631.4 1138.1,631.9 1144.9,632.2 1151.6,632.8 1158.3,634.1 1165.0,634.4 1170.1,638.3 1175.1,640.3 1180.1,640.6 1188.8,642.3 1197.2,647.9 1205.6,653.4 1214.0,656.3 1222.4,658.8 1230.8,659.1 1239.2,663.0 1247.6,665.2 1256.0,665.2 1264.4,666.3 1272.8,667.2 1281.2,668.0 1289.6,668.5 1292.1,667.2" fill="none" stroke="#f0dc3c" stroke-width="1.2" stroke-linejoin="round" stroke-linecap="round" />
<line x1="9" y1="644.5" x2="1367" y2="644.5" stroke="#c4c6cf" stroke-opacity="0.55" stroke-width="1" stroke-dasharray="4,4"/><line x1="9" y1="674" x2="1367" y2="674" stroke="#c4c6cf" stroke-opacity="0.55" stroke-width="1" stroke-dasharray="4,4"/></g><text x="1204" y="700" font-size="10.5" fill="#f4f4f6" text-anchor="middle" stroke="#f4f4f6" stroke-width="0.3">Dec</text><text x="1276.2" y="700" font-size="10.5" fill="#f4f4f6" textLength="23.5" lengthAdjust="spacingAndGlyphs" stroke="#f4f4f6" stroke-width="0.6">2024</text><text x="1375" y="663.3" font-size="11" fill="#ffffff" textLength="25.5" lengthAdjust="spacingAndGlyphs" stroke="#ffffff" stroke-width="0.3">40.00</text></g>
</svg></body></html>
